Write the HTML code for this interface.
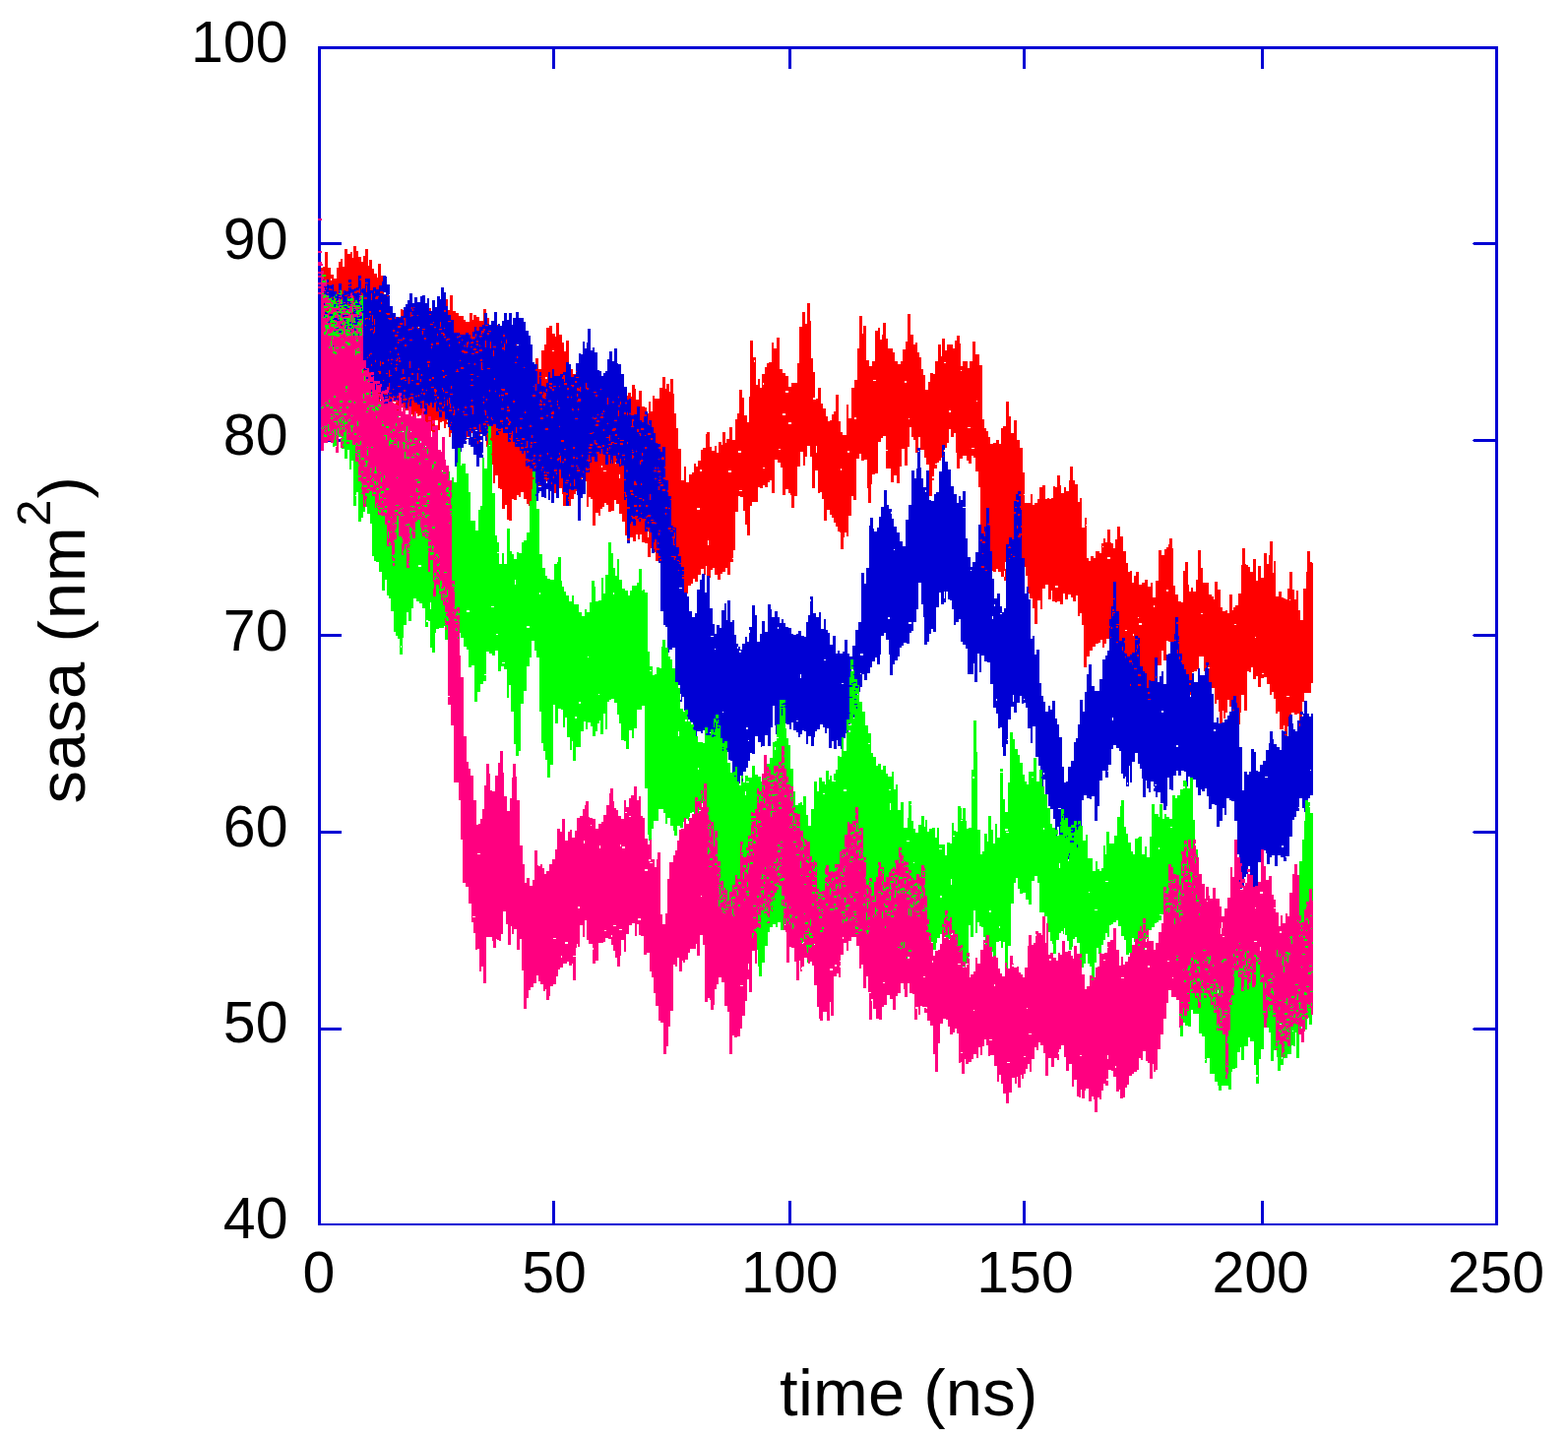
<!DOCTYPE html>
<html lang="en">
<head>
<meta charset="utf-8">
<title>sasa vs time</title>
<style>
html,body{margin:0;padding:0;background:#fff;}
body{width:1593px;height:1461px;overflow:hidden;font-family:"Liberation Sans",sans-serif;}
svg{display:block;}
.t{font-family:"Liberation Sans",sans-serif;font-size:59px;fill:#000;}
.l{font-family:"Liberation Sans",sans-serif;font-size:67px;fill:#000;}
</style>
</head>
<body>
<svg width="1593" height="1461" viewBox="0 0 1593 1461">
<rect width="1593" height="1461" fill="#fff"/>
<g id="axes" fill="#0000d4" shape-rendering="crispEdges">
<rect x="323" y="47" width="3" height="1198"/>
<rect x="1519" y="47" width="3" height="1198"/>
<rect x="323" y="47" width="1199" height="3"/>
<rect x="323" y="1243" width="1199" height="2"/>
<rect x="561" y="1220" width="3" height="23"/>
<rect x="561" y="50" width="3" height="20"/>
<rect x="801" y="1220" width="3" height="23"/>
<rect x="801" y="50" width="3" height="20"/>
<rect x="1039" y="1220" width="3" height="23"/>
<rect x="1039" y="50" width="3" height="20"/>
<rect x="1281" y="1220" width="3" height="23"/>
<rect x="1281" y="50" width="3" height="20"/>
<rect x="326" y="246" width="21" height="3"/>
<rect x="1497" y="246" width="22" height="3"/>
<rect x="1496" y="247" width="1" height="1"/>
<rect x="326" y="446" width="21" height="3"/>
<rect x="1497" y="446" width="22" height="3"/>
<rect x="1496" y="447" width="1" height="1"/>
<rect x="326" y="644" width="21" height="3"/>
<rect x="1497" y="644" width="22" height="3"/>
<rect x="1496" y="645" width="1" height="1"/>
<rect x="326" y="844" width="21" height="3"/>
<rect x="1497" y="844" width="22" height="3"/>
<rect x="1496" y="845" width="1" height="1"/>
<rect x="326" y="1044" width="21" height="3"/>
<rect x="1497" y="1044" width="22" height="3"/>
<rect x="1496" y="1045" width="1" height="1"/>
</g>
<g id="traces" fill="none" stroke-linejoin="miter" stroke-linecap="butt">
<path id="red" stroke="#ff0000" stroke-width="1" shape-rendering="crispEdges" d="M326.5 272V368M327.5 272V368M328.5 271V369M329.5 271V369M330.5 256V369M331.5 256V368M332.5 256V368M333.5 272V370M334.5 272V370M335.5 272V375M336.5 279V283M336.5 285V375M337.5 279V375M338.5 279V372M339.5 283V372M340.5 283V373M341.5 283V373M342.5 272V373M343.5 272V378M344.5 266V378M345.5 266V382M346.5 263V382M347.5 263V381M348.5 271V381M349.5 271V381M350.5 253V378M351.5 253V362M351.5 364V378M352.5 253V378M353.5 258V383M354.5 258V383M355.5 258V380M356.5 256V380M357.5 256V383M358.5 262V383M359.5 250V383M360.5 250V388M361.5 250V388M362.5 255V389M363.5 255V389M364.5 261V389M365.5 261V388M366.5 261V388M367.5 266V388M368.5 266V390M369.5 260V390M370.5 260V390M371.5 253V396M372.5 253V396M373.5 253V396M374.5 270V401M375.5 264V401M376.5 264V401M377.5 264V395M378.5 273V395M379.5 273V397M380.5 278V397M381.5 278V406M381.5 408V411M382.5 278V406M382.5 408V411M383.5 282V299M383.5 301V411M384.5 268V299M384.5 301V410M385.5 268V410M386.5 268V404M387.5 280V404M388.5 280V404M389.5 280V404M390.5 307V404M391.5 307V408M392.5 294V408M393.5 294V408M394.5 294V409M395.5 313V409M396.5 313V409M397.5 321V408M398.5 321V408M399.5 321V408M400.5 320V408M401.5 320V408M402.5 322V420M403.5 322V420M404.5 322V339M404.5 340V420M405.5 322V339M405.5 340V410M406.5 322V410M407.5 314V410M408.5 314V414M409.5 315V414M410.5 315V414M411.5 315V414M412.5 317V417M413.5 317V417M414.5 318V417M415.5 318V417M416.5 312V417M417.5 312V421M418.5 311V421M419.5 311V423M420.5 311V423M421.5 313V423M422.5 313V318M422.5 324V420M423.5 313V420M424.5 308V423M425.5 308V331M425.5 333V423M426.5 308V331M426.5 333V422M427.5 321V331M427.5 333V422M428.5 321V422M429.5 322V427M430.5 322V427M431.5 322V427M432.5 318V431M433.5 318V431M434.5 319V432M435.5 319V432M436.5 313V432M437.5 313V438M438.5 323V438M439.5 323V441M440.5 322V441M441.5 322V441M442.5 322V427M443.5 322V427M444.5 322V427M445.5 322V437M446.5 322V437M447.5 318V429M448.5 318V429M449.5 318V428M450.5 305V428M451.5 305V435M452.5 305V435M453.5 304V431M454.5 304V427M454.5 429V431M455.5 315V427M455.5 429V431M456.5 315V427M456.5 429V444M457.5 300V444M458.5 300V440M459.5 300V451M460.5 316V451M461.5 316V355M461.5 356V451M462.5 316V355M462.5 356V443M463.5 318V355M463.5 356V443M464.5 318V437M465.5 318V437M466.5 321V447M467.5 321V447M468.5 321V441M469.5 321V441M470.5 321V438M471.5 325V438M472.5 325V447M473.5 327V447M474.5 327V371M474.5 372V444M475.5 327V444M476.5 327V444M477.5 318V440M478.5 318V440M479.5 318V440M480.5 325V450M481.5 320V450M482.5 320V450M483.5 320V437M484.5 322V437M485.5 322V451M486.5 322V451M487.5 326V451M488.5 326V440M489.5 326V440M490.5 326V440M491.5 314V439M492.5 314V439M493.5 314V439M494.5 328V454M495.5 323V454M496.5 323V454M497.5 331V452M498.5 331V452M499.5 331V342M499.5 344V371M499.5 373V472M500.5 333V371M500.5 373V472M501.5 333V371M501.5 373V491M502.5 333V491M503.5 330V483M504.5 330V483M505.5 330V483M506.5 338V496M507.5 338V496M508.5 338V497M509.5 340V497M510.5 340V517M511.5 340V517M512.5 340V360M512.5 362V517M513.5 340V360M513.5 362V513M514.5 340V513M515.5 344V528M516.5 344V528M517.5 344V529M518.5 349V529M519.5 349V529M520.5 349V507M521.5 349V507M522.5 348V508M523.5 348V508M524.5 348V508M525.5 356V503M526.5 356V503M527.5 351V505M528.5 351V505M529.5 367V500M530.5 367V500M531.5 372V500M532.5 372V507M533.5 372V507M534.5 373V380M534.5 381V507M535.5 373V512M536.5 377V512M537.5 377V514M538.5 377V514M539.5 385V514M540.5 385V500M541.5 385V500M542.5 386V497M543.5 386V497M544.5 364V497M545.5 364V494M546.5 364V494M547.5 375V494M548.5 375V487M548.5 491V494M549.5 375V494M550.5 356V489M551.5 356V489M552.5 356V490M553.5 350V490M554.5 350V383M554.5 385V489M555.5 333V383M555.5 385V489M556.5 333V489M557.5 333V488M558.5 331V488M559.5 331V488M560.5 331V493M561.5 339V356M561.5 357V493M562.5 339V356M562.5 357V493M563.5 339V501M564.5 342V501M565.5 328V490M566.5 328V490M567.5 328V490M568.5 340V496M569.5 340V496M570.5 340V496M571.5 348V502M572.5 348V514M573.5 357V514M574.5 357V514M575.5 346V505M576.5 346V509M577.5 346V514M578.5 379V514M579.5 379V514M580.5 375V507M581.5 375V507M582.5 380V507M583.5 380V502M584.5 380V502M585.5 371V499M586.5 371V499M587.5 371V501M588.5 375V501M589.5 382V490M590.5 382V490M591.5 381V486M592.5 381V486M593.5 385V489M594.5 385V489M595.5 385V489M596.5 390V515M597.5 390V515M598.5 391V505M599.5 391V505M600.5 391V507M601.5 393V507M602.5 393V534M603.5 395V534M604.5 395V534M605.5 395V521M606.5 386V412M606.5 414V521M607.5 386V412M607.5 414V521M608.5 391V412M608.5 414V524M609.5 391V524M610.5 391V517M611.5 395V473M611.5 475V517M612.5 395V515M613.5 402V478M613.5 479V515M614.5 402V478M614.5 479V511M615.5 391V478M615.5 479V511M616.5 391V513M617.5 391V513M618.5 402V520M619.5 392V520M620.5 392V520M621.5 392V519M622.5 403V519M623.5 403V519M624.5 404V508M625.5 404V470M625.5 471V508M626.5 404V512M627.5 393V512M628.5 393V512M629.5 393V482M629.5 486V522M630.5 402V522M631.5 402V522M632.5 402V530M633.5 401V530M634.5 401V530M635.5 402V544M636.5 402V544M637.5 402V552M638.5 399V552M639.5 399V552M640.5 399V546M641.5 403V546M642.5 391V546M643.5 391V550M644.5 391V550M645.5 395V550M646.5 406V543M647.5 406V543M648.5 406V548M649.5 397V548M650.5 397V543M651.5 397V543M652.5 413V551M653.5 413V551M654.5 413V551M655.5 414V552M656.5 414V552M657.5 420V552M658.5 420V540M658.5 546V566M659.5 408V566M660.5 408V566M661.5 418V557M662.5 418V557M663.5 402V561M664.5 402V561M665.5 405V561M666.5 405V570M667.5 405V570M668.5 405V570M669.5 405V572M670.5 394V572M671.5 394V572M672.5 394V579M673.5 383V579M674.5 383V580M675.5 383V580M676.5 395V584M677.5 390V584M678.5 390V584M679.5 390V601M680.5 398V601M681.5 385V601M682.5 385V593M683.5 385V602M684.5 400V602M685.5 420V602M686.5 420V590M687.5 435V590M688.5 435V598M689.5 456V598M690.5 456V591M691.5 456V591M692.5 488V594M693.5 488V594M694.5 488V594M695.5 474V604M696.5 474V604M697.5 490V604M698.5 490V603M699.5 490V595M700.5 482V595M701.5 482V595M702.5 482V593M703.5 480V593M704.5 480V588M705.5 471V588M706.5 471V591M707.5 474V591M708.5 474V516M708.5 518V591M709.5 468V516M709.5 518V584M710.5 468V516M710.5 518V584M711.5 468V477M711.5 479V584M712.5 457V477M712.5 479V578M713.5 457V578M714.5 455V578M715.5 455V584M716.5 455V584M717.5 441V575M718.5 439V587M719.5 439V549M719.5 554V587M720.5 439V587M721.5 454V587M722.5 454V579M723.5 458V579M724.5 458V577M725.5 458V577M726.5 453V584M727.5 453V584M728.5 460V584M729.5 460V589M730.5 449V589M731.5 449V589M732.5 449V583M733.5 452V583M734.5 439V581M735.5 439V581M736.5 439V581M737.5 450V577M738.5 446V577M739.5 446V584M740.5 446V478M740.5 480V584M741.5 434V478M741.5 480V584M742.5 434V478M742.5 480V571M743.5 434V571M744.5 447V567M744.5 568V571M745.5 447V559M746.5 447V559M747.5 426V520M748.5 426V520M749.5 420V520M750.5 420V458M750.5 460V504M751.5 396V458M751.5 460V498M751.5 499V504M752.5 396V458M752.5 460V498M752.5 499V505M753.5 396V498M753.5 499V505M754.5 404V505M755.5 404V519M756.5 422V519M757.5 422V533M758.5 422V533M759.5 429V544M760.5 429V544M761.5 403V544M762.5 346V514M763.5 346V514M764.5 346V510M765.5 363V510M766.5 363V366M766.5 368V510M767.5 363V510M768.5 391V510M769.5 391V510M770.5 385V495M771.5 385V495M772.5 394V496M773.5 394V496M774.5 380V496M775.5 380V389M775.5 391V475M775.5 476V493M776.5 380V475M776.5 476V493M777.5 373V495M778.5 373V495M779.5 369V495M780.5 369V490M781.5 368V490M782.5 368V488M783.5 368V488M784.5 348V501M785.5 348V501M786.5 354V501M787.5 354V467M788.5 354V467M789.5 343V467M790.5 343V470M791.5 343V456M791.5 457V470M792.5 375V456M792.5 457V470M793.5 375V475M794.5 375V475M795.5 379V420M795.5 422V503M796.5 379V420M796.5 422V503M797.5 379V420M797.5 422V503M798.5 382V397M798.5 399V497M799.5 382V397M799.5 399V497M800.5 382V397M800.5 399V497M801.5 393V429M801.5 431V501M802.5 393V429M802.5 431V501M803.5 393V429M803.5 431V503M804.5 389V516M805.5 389V516M806.5 389V516M807.5 389V504M808.5 389V504M809.5 389V504M810.5 369V474M811.5 369V474M812.5 332V474M813.5 332V459M814.5 332V459M815.5 317V459M816.5 317V473M817.5 317V473M818.5 329V464M819.5 329V464M820.5 308V453M821.5 308V453M822.5 308V453M823.5 326V464M824.5 364V464M825.5 364V496M826.5 378V404M826.5 406V496M827.5 378V404M827.5 406V496M828.5 406V478M829.5 405V453M829.5 460V478M830.5 405V478M831.5 394V501M832.5 394V501M833.5 394V500M834.5 410V500M835.5 410V507M836.5 415V507M837.5 415V529M838.5 415V529M839.5 423V529M840.5 423V518M841.5 428V518M842.5 428V518M843.5 427V523M844.5 427V523M845.5 421V526M846.5 421V526M847.5 418V531M848.5 418V531M849.5 401V535M850.5 401V535M851.5 401V540M852.5 428V540M853.5 428V541M854.5 439V476M854.5 478V558M855.5 439V558M856.5 442V558M857.5 442V546M858.5 442V541M859.5 442V541M860.5 411V545M861.5 411V458M861.5 460V545M862.5 425V458M862.5 460V524M863.5 425V524M864.5 425V524M865.5 394V504M866.5 394V504M867.5 394V508M868.5 386V424M868.5 426V508M869.5 386V424M869.5 426V508M870.5 386V466M871.5 354V466M872.5 354V466M873.5 321V461M874.5 321V461M875.5 321V468M876.5 339V468M877.5 331V468M878.5 331V467M879.5 331V467M880.5 366V467M881.5 366V496M882.5 366V511M883.5 372V511M884.5 372V511M885.5 372V492M886.5 367V482M887.5 367V386M887.5 387V482M888.5 367V386M888.5 387V482M889.5 336V386M889.5 387V481M890.5 336V481M891.5 336V481M892.5 333V449M893.5 333V449M894.5 345V449M895.5 345V445M896.5 340V445M897.5 328V443M898.5 328V443M899.5 328V443M900.5 344V457M900.5 458V476M901.5 344V457M901.5 458V476M902.5 354V476M903.5 354V476M904.5 354V476M905.5 354V490M906.5 354V490M907.5 358V490M908.5 358V483M909.5 367V483M910.5 367V483M911.5 367V491M912.5 370V491M913.5 370V491M914.5 370V474M915.5 367V474M916.5 367V456M917.5 355V456M918.5 355V456M919.5 355V387M919.5 389V473M920.5 347V387M920.5 389V473M921.5 347V473M922.5 319V454M923.5 319V425M923.5 426V454M924.5 319V434M925.5 340V434M926.5 340V444M927.5 340V444M928.5 350V447M929.5 350V447M930.5 348V460M931.5 348V460M932.5 358V460M933.5 358V444M934.5 363V444M935.5 363V457M936.5 375V457M937.5 375V457M938.5 381V457M939.5 381V465M940.5 396V465M941.5 396V472M942.5 396V472M943.5 388V472M944.5 388V504M945.5 379V504M946.5 379V504M947.5 379V484M947.5 486V488M948.5 380V484M948.5 486V488M949.5 380V476M950.5 367V471M950.5 472V476M951.5 367V471M951.5 472V476M952.5 367V470M953.5 350V470M954.5 350V468M955.5 350V468M956.5 362V465M957.5 344V465M958.5 344V465M959.5 344V368M959.5 369V455M960.5 356V368M960.5 369V455M961.5 356V455M962.5 350V450M963.5 350V450M964.5 350V417M964.5 419V436M965.5 350V417M965.5 419V436M966.5 350V444M967.5 350V444M968.5 354V444M969.5 354V440M970.5 346V440M971.5 346V460M972.5 341V476M973.5 341V476M974.5 341V476M975.5 349V466M976.5 372V376M976.5 377V466M977.5 372V466M978.5 367V463M979.5 367V463M980.5 367V463M981.5 367V463M982.5 367V468M983.5 374V434M983.5 435V468M984.5 374V434M984.5 435V471M985.5 367V434M985.5 435V471M986.5 367V471M987.5 367V455M987.5 456V463M988.5 347V455M988.5 456V463M989.5 347V455M989.5 456V465M990.5 347V465M991.5 360V479M992.5 360V407M992.5 408V479M993.5 360V479M994.5 360V495M995.5 371V495M996.5 371V572M997.5 371V590M998.5 426V590M999.5 426V590M1000.5 435V583M1001.5 435V585M1002.5 438V585M1003.5 438V586M1004.5 444V586M1005.5 444V588M1006.5 451V588M1007.5 451V566M1007.5 567V580M1008.5 451V580M1009.5 450V581M1010.5 450V581M1011.5 450V581M1012.5 447V578M1013.5 447V578M1014.5 447V581M1015.5 451V581M1016.5 451V581M1017.5 435V586M1018.5 435V586M1019.5 433V586M1020.5 433V580M1020.5 586V590M1021.5 433V571M1021.5 578V590M1022.5 408V590M1023.5 408V586M1024.5 408V583M1025.5 423V583M1026.5 423V583M1027.5 440V576M1028.5 440V576M1029.5 440V576M1030.5 427V556M1030.5 558V575M1031.5 427V556M1031.5 558V575M1032.5 427V576M1033.5 447V576M1034.5 447V568M1035.5 447V568M1036.5 455V568M1037.5 455V577M1038.5 455V577M1039.5 480V576M1040.5 480V502M1040.5 503V576M1041.5 511V576M1042.5 511V585M1043.5 511V585M1044.5 511V603M1045.5 511V603M1046.5 511V608M1047.5 502V608M1048.5 502V608M1049.5 513V618M1050.5 513V618M1051.5 511V634M1052.5 511V634M1053.5 511V634M1054.5 507V610M1055.5 507V610M1056.5 495V610M1057.5 495V619M1058.5 495V619M1059.5 493V598M1060.5 493V598M1061.5 493V598M1062.5 507V594M1063.5 507V594M1064.5 506V594M1065.5 506V609M1066.5 507V609M1067.5 507V609M1068.5 506V600M1069.5 506V611M1070.5 494V611M1071.5 494V611M1072.5 495V595M1072.5 597V612M1073.5 495V595M1073.5 597V612M1074.5 483V595M1074.5 597V611M1075.5 483V611M1076.5 483V611M1077.5 493V614M1078.5 501V614M1079.5 501V614M1080.5 501V603M1081.5 495V603M1082.5 495V609M1083.5 499V609M1084.5 499V609M1085.5 499V604M1086.5 488V604M1087.5 474V604M1088.5 474V607M1089.5 474V607M1090.5 488V611M1091.5 488V611M1092.5 492V611M1093.5 492V605M1094.5 492V605M1095.5 510V626M1096.5 510V626M1097.5 506V623M1098.5 506V623M1099.5 536V635M1100.5 536V635M1101.5 536V678M1102.5 526V678M1103.5 526V533M1103.5 534V678M1104.5 567V667M1105.5 567V667M1106.5 570V667M1107.5 570V661M1108.5 565V661M1109.5 565V661M1110.5 565V657M1111.5 567V657M1112.5 567V657M1113.5 560V654M1114.5 560V654M1115.5 560V654M1116.5 560V653M1117.5 562V653M1118.5 562V650M1119.5 552V650M1120.5 552V555M1120.5 556V658M1121.5 547V658M1122.5 547V654M1123.5 551V654M1124.5 551V649M1125.5 538V566M1125.5 568V649M1126.5 538V566M1126.5 568V649M1127.5 538V566M1127.5 568V655M1128.5 551V655M1129.5 552V651M1130.5 552V651M1131.5 557V651M1132.5 557V665M1133.5 548V665M1134.5 548V658M1135.5 535V658M1136.5 535V658M1137.5 535V658M1138.5 545V658M1139.5 545V662M1140.5 545V662M1141.5 560V668M1142.5 560V668M1143.5 560V640M1143.5 641V668M1144.5 572V640M1144.5 641V676M1145.5 572V676M1146.5 581V676M1147.5 581V700M1148.5 580V700M1149.5 580V690M1150.5 592V690M1151.5 592V644M1151.5 646V692M1152.5 585V692M1153.5 585V694M1154.5 581V694M1155.5 581V694M1156.5 581V627M1156.5 628V703M1157.5 594V633M1157.5 635V703M1158.5 594V633M1158.5 635V703M1159.5 594V633M1159.5 635V698M1160.5 592V698M1161.5 592V704M1162.5 592V704M1163.5 589V701M1164.5 589V701M1165.5 589V703M1166.5 596V711M1167.5 596V711M1168.5 596V711M1169.5 592V693M1170.5 592V700M1171.5 607V700M1172.5 607V615M1172.5 617V694M1173.5 607V694M1174.5 590V694M1175.5 590V676M1176.5 590V676M1177.5 559V676M1178.5 559V676M1179.5 559V676M1180.5 564V661M1181.5 564V661M1182.5 564V671M1183.5 558V671M1184.5 558V671M1185.5 556V599M1185.5 601V651M1186.5 556V599M1186.5 601V651M1187.5 553V652M1188.5 547V652M1189.5 547V652M1190.5 547V660M1191.5 557V660M1192.5 595V653M1193.5 595V653M1194.5 604V653M1195.5 604V666M1196.5 604V666M1197.5 611V666M1198.5 611V678M1199.5 611V678M1200.5 612V679M1201.5 612V679M1202.5 580V687M1203.5 580V687M1204.5 571V687M1205.5 571V688M1206.5 571V688M1207.5 594V706M1208.5 601V706M1209.5 601V706M1210.5 597V695M1211.5 597V683M1212.5 601V683M1213.5 601V682M1214.5 601V682M1215.5 589V682M1216.5 589V680M1217.5 559V680M1218.5 559V667M1219.5 559V667M1220.5 577V623M1220.5 624V667M1221.5 577V623M1221.5 624V667M1222.5 592V667M1223.5 592V682M1224.5 592V682M1225.5 592V682M1226.5 592V691M1227.5 592V678M1227.5 679V691M1228.5 604V678M1228.5 679V700M1229.5 604V700M1230.5 604V700M1231.5 606V699M1232.5 606V699M1233.5 609V699M1234.5 591V715M1235.5 591V715M1236.5 591V711M1237.5 599V711M1238.5 599V723M1239.5 599V736M1240.5 617V736M1241.5 617V736M1242.5 621V722M1243.5 621V730M1244.5 621V730M1245.5 620V724M1246.5 620V724M1247.5 623V711M1248.5 623V711M1249.5 604V718M1250.5 604V718M1251.5 604V724M1252.5 620V724M1253.5 617V730M1254.5 617V634M1254.5 635V730M1255.5 615V634M1255.5 635V730M1256.5 615V727M1257.5 615V736M1258.5 603V736M1259.5 603V736M1260.5 603V724M1261.5 574V706M1262.5 557V706M1263.5 557V706M1264.5 557V722M1265.5 573V722M1266.5 574V722M1267.5 574V682M1268.5 576V682M1269.5 576V683M1270.5 581V683M1271.5 581V678M1272.5 581V678M1273.5 568V690M1274.5 568V690M1275.5 568V647M1275.5 648V690M1276.5 590V687M1277.5 590V687M1278.5 575V698M1279.5 575V698M1280.5 575V698M1281.5 587V689M1282.5 587V684M1282.5 685V689M1283.5 587V684M1283.5 685V689M1284.5 562V688M1285.5 562V688M1286.5 562V688M1287.5 573V695M1288.5 573V695M1289.5 564V695M1290.5 550V706M1291.5 550V706M1292.5 550V703M1293.5 582V703M1294.5 570V710M1295.5 570V710M1296.5 606V725M1297.5 606V725M1298.5 606V723M1299.5 601V723M1300.5 601V741M1301.5 601V741M1302.5 607V741M1303.5 607V741M1304.5 608V737M1305.5 608V748M1306.5 609V748M1307.5 609V707M1307.5 708V748M1308.5 598V707M1308.5 708V738M1309.5 598V707M1309.5 708V736M1310.5 581V609M1310.5 610V736M1311.5 581V736M1312.5 581V724M1313.5 599V724M1314.5 599V724M1315.5 609V726M1316.5 609V726M1317.5 600V726M1318.5 600V725M1319.5 620V725M1320.5 620V739M1321.5 630V739M1322.5 630V739M1323.5 630V713M1324.5 598V713M1325.5 598V704M1326.5 598V704M1327.5 581V704M1328.5 560V704M1329.5 560V704M1330.5 560V704M1331.5 571V704M1332.5 571V694M1333.5 572V694"/>
<path id="blue" stroke="#0000d4" stroke-width="1" shape-rendering="crispEdges" d="M326.5 283V362M326.5 364V401M327.5 283V314M327.5 315V362M327.5 364V401M328.5 283V316M328.5 318V362M328.5 364V401M329.5 288V297M329.5 298V393M330.5 288V315M330.5 317V358M330.5 360V393M331.5 284V287M331.5 289V292M331.5 294V314M331.5 317V353M331.5 354V358M331.5 360V393M332.5 284V287M332.5 289V314M332.5 317V319M332.5 320V353M332.5 354V393M333.5 284V287M333.5 289V314M333.5 316V319M333.5 320V393M334.5 290V293M334.5 295V314M334.5 316V319M334.5 320V360M334.5 364V394M335.5 290V293M335.5 295V314M335.5 316V364M335.5 366V394M336.5 290V294M336.5 295V302M336.5 303V321M336.5 323V394M337.5 289V294M337.5 295V302M337.5 303V322M337.5 323V328M337.5 330V394M338.5 289V328M338.5 330V394M339.5 296V302M339.5 309V399M340.5 296V317M340.5 321V399M341.5 296V306M341.5 308V399M342.5 299V401M343.5 299V318M343.5 320V401M344.5 288V311M344.5 312V323M344.5 324V331M344.5 333V356M344.5 358V399M345.5 288V304M345.5 305V307M345.5 309V311M345.5 312V399M346.5 288V304M346.5 305V311M346.5 312V315M346.5 316V399M347.5 299V302M347.5 305V312M347.5 314V331M347.5 332V399M348.5 299V312M348.5 314V315M348.5 316V331M348.5 332V356M348.5 357V399M349.5 295V312M349.5 314V315M349.5 316V356M349.5 357V379M349.5 381V399M350.5 295V300M350.5 301V315M350.5 316V379M350.5 381V409M351.5 296V300M351.5 301V409M352.5 296V300M352.5 301V400M353.5 296V299M353.5 300V301M353.5 303V304M353.5 305V308M353.5 312V341M353.5 342V400M354.5 284V287M354.5 289V291M354.5 292V301M354.5 303V304M354.5 306V309M354.5 310V317M354.5 319V400M355.5 284V287M355.5 289V291M355.5 292V301M355.5 303V304M355.5 306V309M355.5 310V317M355.5 319V323M355.5 324V398M356.5 284V287M356.5 288V291M356.5 292V304M356.5 306V323M356.5 324V352M356.5 354V356M356.5 358V375M356.5 379V398M357.5 294V297M357.5 303V352M357.5 354V356M357.5 358V375M357.5 379V382M357.5 383V398M358.5 294V317M358.5 319V352M358.5 354V398M359.5 294V301M359.5 308V356M359.5 358V401M360.5 293V296M360.5 298V371M360.5 373V386M360.5 387V401M361.5 293V296M361.5 298V371M361.5 373V379M361.5 380V381M361.5 382V386M361.5 387V401M362.5 292V295M362.5 298V371M362.5 373V379M362.5 380V381M362.5 382V386M362.5 387V406M363.5 292V295M363.5 297V371M363.5 372V379M363.5 380V381M363.5 382V406M364.5 280V295M364.5 297V371M364.5 372V406M365.5 280V283M365.5 284V293M365.5 298V364M365.5 366V377M365.5 379V402M366.5 280V283M366.5 285V364M366.5 366V402M367.5 294V297M367.5 300V402M368.5 293V298M368.5 300V311M368.5 313V371M368.5 374V382M368.5 384V411M369.5 293V376M369.5 378V382M369.5 384V411M370.5 293V302M370.5 304V376M370.5 378V387M370.5 388V411M371.5 283V287M371.5 288V302M371.5 304V323M371.5 325V330M371.5 331V376M371.5 378V387M371.5 388V414M372.5 283V287M372.5 288V290M372.5 297V302M372.5 304V323M372.5 324V387M372.5 388V414M373.5 283V287M373.5 288V323M373.5 324V363M373.5 364V379M373.5 383V409M374.5 283V378M374.5 379V380M374.5 387V398M374.5 399V409M375.5 283V316M375.5 318V323M375.5 325V360M375.5 362V378M375.5 379V386M375.5 388V398M375.5 399V406M376.5 295V316M376.5 318V320M376.5 321V334M376.5 336V359M376.5 360V378M376.5 379V386M376.5 388V406M377.5 295V298M377.5 305V334M377.5 335V359M377.5 360V370M377.5 372V414M378.5 295V320M378.5 327V329M378.5 330V334M378.5 335V414M379.5 292V337M379.5 339V412M380.5 292V296M380.5 298V324M380.5 330V332M380.5 338V412M381.5 292V302M381.5 304V366M381.5 368V412M382.5 294V301M382.5 304V397M382.5 398V412M383.5 294V301M383.5 304V397M383.5 398V405M383.5 407V412M384.5 294V301M384.5 302V377M384.5 378V394M384.5 395V397M384.5 398V399M384.5 401V405M385.5 290V315M385.5 317V377M385.5 380V394M385.5 395V399M385.5 400V402M385.5 404V405M386.5 290V296M386.5 298V315M386.5 317V367M386.5 372V377M386.5 380V394M386.5 395V400M386.5 401V402M386.5 404V406M387.5 290V296M387.5 298V307M387.5 309V400M387.5 401V409M388.5 286V296M388.5 298V368M388.5 370V409M389.5 280V297M389.5 299V368M389.5 370V386M389.5 387V421M390.5 280V297M390.5 299V400M390.5 401V421M391.5 280V297M391.5 299V400M391.5 401V421M392.5 281V318M392.5 319V379M392.5 380V400M392.5 401V413M393.5 289V300M393.5 301V318M393.5 320V379M393.5 380V413M394.5 289V300M394.5 301V318M394.5 320V323M394.5 324V365M394.5 367V405M394.5 407V413M395.5 289V299M395.5 300V318M395.5 320V323M395.5 325V376M395.5 383V389M395.5 396V399M395.5 400V402M395.5 407V413M396.5 311V323M396.5 325V357M396.5 358V381M396.5 382V399M396.5 400V403M396.5 405V413M397.5 311V323M397.5 325V365M397.5 366V369M397.5 370V381M397.5 382V399M397.5 400V403M397.5 405V412M398.5 311V365M398.5 366V412M399.5 318V335M399.5 337V395M399.5 396V402M399.5 404V407M400.5 318V335M400.5 337V403M400.5 404V407M401.5 318V322M401.5 324V340M401.5 342V353M401.5 355V374M401.5 375V403M401.5 404V407M402.5 322V340M402.5 342V353M402.5 355V366M402.5 367V370M402.5 371V373M402.5 377V407M403.5 322V337M403.5 338V340M403.5 342V364M403.5 367V370M403.5 371V402M403.5 405V407M404.5 322V331M404.5 333V337M404.5 338V345M404.5 346V347M404.5 349V359M404.5 361V392M404.5 393V402M404.5 404V407M405.5 323V331M405.5 333V345M405.5 346V363M405.5 365V366M405.5 368V392M405.5 393V402M405.5 404V416M406.5 323V328M406.5 330V331M406.5 333V345M406.5 346V366M406.5 368V392M406.5 393V416M407.5 321V328M407.5 330V345M407.5 346V384M407.5 386V412M408.5 321V328M408.5 330V345M408.5 346V384M408.5 386V412M409.5 321V343M409.5 345V375M409.5 380V383M409.5 385V405M409.5 407V409M410.5 312V323M410.5 325V343M410.5 345V383M410.5 385V396M410.5 398V401M410.5 404V405M410.5 407V409M411.5 312V323M411.5 331V350M411.5 352V383M411.5 385V386M411.5 387V396M411.5 398V404M411.5 407V409M412.5 309V350M412.5 352V386M412.5 387V405M412.5 407V415M413.5 309V405M413.5 406V415M414.5 305V409M415.5 305V334M415.5 336V383M415.5 390V404M416.5 298V334M416.5 335V345M416.5 346V367M416.5 374V404M416.5 406V414M417.5 298V317M417.5 322V334M417.5 335V345M417.5 346V400M417.5 401V403M417.5 405V414M418.5 298V312M418.5 314V320M418.5 321V334M418.5 335V345M418.5 346V379M418.5 381V386M418.5 387V400M418.5 401V403M418.5 405V407M419.5 308V314M419.5 316V320M419.5 321V332M419.5 334V379M419.5 381V386M419.5 387V400M419.5 401V403M420.5 308V312M420.5 313V407M421.5 302V409M422.5 302V402M422.5 403V409M423.5 302V389M423.5 391V402M423.5 403V409M424.5 307V320M424.5 321V332M424.5 334V379M424.5 386V389M424.5 391V411M425.5 307V332M425.5 334V374M425.5 376V389M425.5 391V401M425.5 403V411M426.5 307V411M427.5 301V385M427.5 388V408M427.5 409V415M428.5 301V380M428.5 382V399M428.5 400V408M428.5 409V415M429.5 300V334M429.5 335V336M429.5 340V395M429.5 397V407M430.5 300V334M430.5 335V399M430.5 401V407M431.5 300V334M431.5 335V343M431.5 345V399M431.5 401V421M432.5 308V343M432.5 345V410M432.5 411V416M432.5 417V421M433.5 308V396M433.5 397V410M433.5 411V421M434.5 303V367M434.5 369V410M435.5 303V367M435.5 369V370M435.5 373V412M436.5 316V319M436.5 320V367M436.5 369V385M436.5 387V412M437.5 316V319M437.5 320V329M437.5 330V385M437.5 387V409M438.5 316V329M438.5 330V349M438.5 351V352M438.5 354V393M438.5 394V409M439.5 305V329M439.5 330V349M439.5 351V383M439.5 385V393M439.5 394V414M440.5 305V327M440.5 328V383M440.5 385V393M440.5 394V414M441.5 305V332M441.5 333V395M441.5 398V401M441.5 402V409M442.5 312V332M442.5 333V395M442.5 400V401M442.5 402V405M442.5 406V409M443.5 312V348M443.5 350V396M443.5 398V401M443.5 402V408M443.5 409V418M444.5 301V339M444.5 341V348M444.5 350V403M444.5 405V418M445.5 301V348M445.5 350V403M445.5 405V414M445.5 416V418M446.5 301V334M446.5 335V409M446.5 411V416M446.5 418V424M447.5 304V327M447.5 332V334M447.5 335V409M447.5 411V417M447.5 418V424M448.5 292V334M448.5 335V338M448.5 339V409M448.5 411V417M448.5 418V424M449.5 292V338M449.5 339V376M449.5 377V394M449.5 396V413M449.5 415V418M450.5 292V338M450.5 341V376M450.5 378V382M450.5 384V396M450.5 398V413M450.5 415V418M451.5 297V315M451.5 317V333M451.5 334V339M451.5 341V342M451.5 343V382M451.5 384V404M451.5 405V408M451.5 409V410M451.5 413V418M452.5 297V315M452.5 317V342M452.5 343V381M452.5 382V398M452.5 399V426M453.5 311V345M453.5 346V381M453.5 382V398M453.5 399V426M454.5 311V344M454.5 346V398M454.5 399V406M454.5 412V426M455.5 320V326M455.5 327V344M455.5 345V434M456.5 320V326M456.5 327V344M456.5 345V350M456.5 352V404M456.5 410V416M456.5 418V434M457.5 320V326M457.5 327V400M457.5 401V410M457.5 415V416M457.5 418V431M457.5 433V437M458.5 325V392M458.5 395V400M458.5 401V416M458.5 418V429M458.5 430V437M459.5 325V400M459.5 401V456M460.5 325V413M460.5 415V420M460.5 422V456M461.5 338V416M461.5 422V456M462.5 338V474M463.5 338V377M463.5 378V474M464.5 338V342M464.5 343V375M464.5 378V474M465.5 338V342M465.5 343V377M465.5 378V415M465.5 417V460M466.5 338V341M466.5 342V347M466.5 349V460M467.5 340V341M467.5 342V366M467.5 367V459M468.5 340V373M468.5 375V459M469.5 340V345M469.5 346V356M469.5 358V373M469.5 375V455M470.5 340V356M470.5 358V373M470.5 375V418M470.5 419V455M471.5 340V351M471.5 352V356M471.5 359V418M471.5 419V421M471.5 422V451M472.5 340V351M472.5 352V357M472.5 359V413M472.5 415V421M472.5 422V451M473.5 338V357M473.5 359V413M473.5 415V421M473.5 422V446M473.5 448V451M474.5 338V348M474.5 353V357M474.5 359V421M474.5 422V438M474.5 445V446M475.5 338V347M475.5 350V443M475.5 445V446M476.5 340V369M476.5 370V443M476.5 445V452M477.5 340V435M477.5 436V437M477.5 438V452M478.5 344V348M478.5 349V352M478.5 353V380M478.5 381V391M478.5 392V412M478.5 414V435M478.5 436V454M479.5 344V347M479.5 349V352M479.5 353V359M479.5 360V380M479.5 381V385M479.5 387V391M479.5 392V406M479.5 408V412M479.5 414V438M479.5 444V454M480.5 337V342M480.5 345V347M480.5 349V359M480.5 360V380M480.5 381V391M480.5 392V412M480.5 421V454M481.5 337V342M481.5 344V354M481.5 356V359M481.5 360V434M481.5 436V462M482.5 332V342M482.5 344V354M482.5 356V369M482.5 371V434M482.5 436V445M482.5 446V462M483.5 332V339M483.5 342V354M483.5 356V357M483.5 359V434M483.5 436V437M483.5 438V462M484.5 336V346M484.5 348V349M484.5 351V357M484.5 359V437M484.5 438V474M485.5 336V346M485.5 348V349M485.5 351V357M485.5 359V382M485.5 383V448M485.5 451V474M486.5 336V474M487.5 332V341M487.5 342V351M487.5 352V355M487.5 357V431M487.5 439V441M487.5 443V447M487.5 449V465M488.5 332V341M488.5 343V355M488.5 357V365M488.5 367V437M488.5 439V441M488.5 443V447M488.5 449V465M489.5 332V336M489.5 340V341M489.5 342V355M489.5 357V365M489.5 367V368M489.5 376V441M489.5 443V447M489.5 449V465M490.5 330V336M490.5 338V375M490.5 376V460M490.5 462V465M491.5 330V334M491.5 338V403M491.5 404V408M491.5 410V430M491.5 432V443M492.5 318V334M492.5 336V417M492.5 418V430M492.5 432V443M493.5 318V330M493.5 331V346M493.5 353V417M493.5 422V428M493.5 429V430M493.5 432V434M493.5 435V448M494.5 318V330M494.5 331V405M494.5 407V428M494.5 429V442M494.5 444V448M495.5 329V330M495.5 331V338M495.5 340V374M495.5 375V423M495.5 425V428M495.5 429V431M495.5 433V436M495.5 438V440M496.5 329V336M496.5 337V338M496.5 340V374M496.5 375V431M496.5 433V440M497.5 330V336M497.5 337V374M497.5 375V396M497.5 398V440M498.5 330V336M498.5 337V347M498.5 354V433M499.5 326V424M499.5 426V433M500.5 326V426M500.5 427V433M501.5 326V352M501.5 353V356M501.5 362V431M502.5 317V352M502.5 353V384M502.5 386V431M503.5 317V352M503.5 353V397M503.5 398V431M504.5 317V435M504.5 438V442M505.5 331V435M505.5 438V442M506.5 329V436M506.5 437V438M506.5 440V442M507.5 329V401M507.5 403V436M507.5 437V438M508.5 331V427M508.5 429V436M508.5 437V438M509.5 331V347M509.5 348V395M509.5 396V401M509.5 402V415M509.5 416V427M509.5 429V435M510.5 326V353M510.5 355V395M510.5 397V401M510.5 402V405M510.5 407V415M510.5 416V427M510.5 429V430M510.5 431V435M511.5 326V340M511.5 342V353M511.5 355V395M511.5 397V401M511.5 402V415M511.5 416V440M512.5 318V340M512.5 342V349M512.5 356V395M512.5 397V440M513.5 318V399M513.5 401V434M513.5 436V440M514.5 318V345M514.5 349V399M514.5 401V424M514.5 426V434M514.5 436V440M515.5 325V399M515.5 401V413M515.5 415V416M515.5 418V424M515.5 426V434M515.5 436V440M516.5 325V413M516.5 415V416M516.5 418V426M516.5 428V430M516.5 432V449M517.5 318V416M517.5 418V428M517.5 432V440M517.5 441V445M517.5 446V449M518.5 318V428M518.5 430V440M518.5 441V445M518.5 447V449M519.5 318V440M519.5 441V442M520.5 330V438M521.5 323V407M521.5 409V449M522.5 323V407M522.5 409V449M523.5 323V368M523.5 369V454M524.5 317V350M524.5 351V368M524.5 369V434M524.5 440V445M524.5 446V450M524.5 451V454M525.5 317V350M525.5 351V362M525.5 364V445M525.5 446V447M525.5 448V454M526.5 317V350M526.5 351V447M526.5 448V454M527.5 323V447M527.5 448V454M528.5 323V425M528.5 426V434M528.5 436V458M529.5 323V425M529.5 426V434M529.5 436V450M529.5 451V454M529.5 456V458M530.5 323V425M530.5 426V445M530.5 447V450M530.5 451V454M530.5 456V461M531.5 323V445M531.5 447V454M531.5 456V461M532.5 327V373M532.5 374V445M532.5 447V458M533.5 327V418M533.5 420V454M533.5 455V458M534.5 336V454M534.5 455V466M534.5 468V474M535.5 336V448M535.5 455V458M535.5 460V466M535.5 468V469M535.5 470V474M536.5 336V458M536.5 460V466M536.5 469V473M537.5 341V467M537.5 469V473M538.5 341V432M538.5 434V467M538.5 469V476M539.5 350V432M539.5 434V449M539.5 451V452M539.5 455V476M540.5 350V442M540.5 445V449M540.5 451V467M540.5 469V476M541.5 368V401M541.5 403V470M541.5 472V479M542.5 368V392M542.5 393V401M542.5 403V449M542.5 450V462M542.5 464V466M542.5 467V470M542.5 472V479M543.5 370V401M543.5 403V449M543.5 450V462M543.5 464V470M543.5 472V473M543.5 476V479M544.5 370V375M544.5 377V390M544.5 397V449M544.5 450V473M544.5 474V509M545.5 370V375M545.5 377V509M546.5 390V509M547.5 390V467M547.5 468V490M547.5 491V493M547.5 495V501M548.5 378V382M548.5 383V398M548.5 400V410M548.5 412V462M548.5 464V467M548.5 468V493M548.5 495V499M549.5 378V382M549.5 383V384M549.5 385V398M549.5 400V406M549.5 409V410M549.5 412V415M549.5 416V424M549.5 426V462M549.5 464V493M549.5 495V499M550.5 392V398M550.5 400V408M550.5 409V410M550.5 412V415M550.5 416V424M550.5 426V477M550.5 478V505M551.5 392V401M551.5 404V424M551.5 426V474M551.5 476V505M552.5 392V398M552.5 405V410M552.5 412V505M553.5 393V399M553.5 405V410M553.5 412V479M553.5 481V482M553.5 484V485M553.5 487V506M554.5 393V399M554.5 403V404M554.5 405V435M554.5 437V482M554.5 484V485M554.5 487V506M555.5 389V395M555.5 398V422M555.5 423V435M555.5 437V480M555.5 481V482M555.5 484V485M555.5 491V497M556.5 389V422M556.5 423V435M556.5 437V460M556.5 462V480M556.5 481V486M556.5 487V497M557.5 378V407M557.5 408V480M557.5 481V486M557.5 487V508M558.5 378V389M558.5 391V392M558.5 394V407M558.5 408V508M559.5 384V389M559.5 391V393M559.5 395V407M559.5 408V412M559.5 413V465M559.5 466V499M560.5 384V389M560.5 391V393M560.5 395V412M560.5 413V419M560.5 421V423M560.5 425V465M560.5 466V490M560.5 492V511M561.5 375V395M561.5 397V418M561.5 421V423M561.5 425V511M562.5 375V392M562.5 393V395M562.5 397V418M562.5 421V484M562.5 486V511M563.5 382V392M563.5 393V477M563.5 479V492M564.5 382V392M564.5 393V477M564.5 479V492M565.5 382V477M565.5 479V480M565.5 482V506M566.5 382V407M566.5 409V410M566.5 412V466M566.5 468V506M567.5 382V414M567.5 415V465M567.5 468V506M568.5 382V392M568.5 393V414M568.5 415V433M568.5 434V460M568.5 462V465M568.5 467V477M569.5 380V463M569.5 470V477M570.5 380V447M570.5 449V486M571.5 380V383M571.5 385V447M571.5 449V469M571.5 470V486M572.5 378V381M572.5 385V447M572.5 449V469M572.5 470V500M573.5 378V381M573.5 388V389M573.5 391V456M573.5 457V466M573.5 468V500M574.5 378V389M574.5 391V456M574.5 457V466M574.5 468V490M574.5 491V500M575.5 368V389M575.5 391V488M575.5 489V490M575.5 491V501M575.5 503V514M576.5 368V394M576.5 396V403M576.5 404V488M576.5 489V490M576.5 491V501M576.5 503V514M577.5 368V394M577.5 396V403M577.5 404V488M577.5 489V505M577.5 507V508M577.5 509V514M578.5 370V482M578.5 484V497M579.5 370V491M579.5 494V497M580.5 383V391M580.5 392V403M580.5 404V473M580.5 474V498M581.5 383V391M581.5 393V415M581.5 417V473M581.5 474V498M582.5 383V391M582.5 393V416M582.5 417V454M582.5 456V464M582.5 466V473M582.5 474V498M583.5 381V454M583.5 456V464M583.5 466V487M583.5 494V497M584.5 381V387M584.5 389V425M584.5 426V497M585.5 369V377M585.5 378V383M585.5 384V387M585.5 389V425M585.5 426V465M585.5 466V473M585.5 474V497M586.5 369V383M586.5 384V394M586.5 397V400M586.5 403V407M586.5 408V425M586.5 426V465M586.5 466V473M586.5 474V475M586.5 476V477M586.5 479V503M587.5 369V383M587.5 384V394M587.5 397V405M587.5 408V415M587.5 417V475M587.5 476V477M587.5 479V529M588.5 359V395M588.5 397V405M588.5 408V477M588.5 479V529M589.5 359V393M589.5 398V405M589.5 408V529M590.5 360V485M590.5 487V506M591.5 360V462M591.5 464V485M591.5 487V506M592.5 347V479M592.5 480V502M593.5 347V502M594.5 354V502M595.5 354V389M595.5 395V475M595.5 478V480M596.5 348V394M596.5 396V467M596.5 468V476M596.5 478V480M597.5 334V394M597.5 396V467M597.5 469V476M597.5 478V480M598.5 334V454M598.5 456V459M598.5 460V462M598.5 469V476M598.5 477V480M599.5 334V440M599.5 441V451M599.5 453V454M599.5 456V459M599.5 460V467M599.5 469V470M600.5 356V440M600.5 441V451M600.5 453V454M600.5 456V459M600.5 460V470M601.5 356V440M601.5 441V451M601.5 453V464M602.5 353V424M602.5 425V439M602.5 440V464M603.5 353V398M603.5 399V425M603.5 426V464M604.5 358V398M604.5 399V425M604.5 426V447M604.5 451V469M605.5 358V398M605.5 399V401M605.5 403V424M605.5 426V431M605.5 433V450M605.5 452V469M606.5 358V401M606.5 403V427M606.5 429V431M606.5 433V450M606.5 452V459M606.5 461V469M607.5 376V421M607.5 422V427M607.5 429V431M607.5 433V453M607.5 455V459M608.5 376V427M608.5 429V453M608.5 455V459M609.5 377V453M609.5 455V461M610.5 377V395M610.5 396V423M610.5 425V454M610.5 455V461M611.5 382V420M611.5 421V423M611.5 425V456M612.5 382V420M612.5 421V423M612.5 425V452M612.5 454V461M613.5 379V417M613.5 419V436M613.5 438V452M613.5 454V462M614.5 379V462M615.5 377V472M616.5 377V444M616.5 445V459M616.5 461V472M617.5 365V404M617.5 411V430M617.5 431V444M617.5 445V455M617.5 458V459M617.5 461V472M618.5 365V444M618.5 445V451M618.5 452V462M619.5 357V442M619.5 448V451M619.5 452V454M619.5 456V462M620.5 357V451M620.5 452V471M621.5 357V449M621.5 452V467M622.5 367V408M622.5 409V436M622.5 438V449M622.5 450V471M623.5 367V408M623.5 409V435M623.5 438V449M623.5 450V463M624.5 354V427M624.5 428V435M624.5 438V450M624.5 451V463M625.5 354V427M625.5 428V435M625.5 437V441M625.5 443V450M625.5 451V463M626.5 354V427M626.5 428V441M626.5 443V450M626.5 451V466M626.5 468V471M627.5 369V471M628.5 370V403M628.5 404V412M628.5 413V417M628.5 423V445M628.5 446V460M628.5 462V471M629.5 370V412M629.5 413V474M630.5 370V408M630.5 411V447M630.5 448V450M630.5 452V466M630.5 472V474M631.5 380V447M631.5 448V450M631.5 452V473M632.5 380V447M632.5 448V450M632.5 452V462M632.5 463V473M633.5 380V447M633.5 448V462M633.5 463V473M634.5 393V419M634.5 421V462M634.5 463V466M634.5 467V487M634.5 488V500M634.5 501V508M635.5 393V409M635.5 410V419M635.5 421V487M635.5 488V500M635.5 505V508M636.5 393V409M636.5 410V478M636.5 479V503M636.5 505V506M637.5 406V419M637.5 422V449M637.5 451V478M637.5 479V515M637.5 517V547M637.5 549V552M638.5 406V515M638.5 517V547M638.5 549V552M639.5 405V420M639.5 421V515M639.5 517V547M639.5 549V552M640.5 405V420M640.5 421V498M640.5 500V532M641.5 422V433M641.5 434V498M641.5 500V501M641.5 503V524M641.5 525V530M642.5 422V426M642.5 434V457M642.5 458V459M642.5 460V462M642.5 466V498M642.5 500V501M642.5 503V524M642.5 527V530M643.5 422V426M643.5 428V433M643.5 434V459M643.5 460V463M643.5 465V502M643.5 503V525M643.5 527V534M644.5 421V489M644.5 493V513M644.5 515V525M644.5 527V534M645.5 421V489M645.5 493V504M645.5 505V513M645.5 515V524M645.5 528V534M646.5 421V458M646.5 459V491M646.5 493V504M646.5 505V513M646.5 515V518M646.5 520V524M647.5 413V436M647.5 439V518M647.5 520V524M647.5 526V527M648.5 413V436M648.5 439V527M649.5 413V440M649.5 441V506M649.5 507V513M649.5 515V526M649.5 527V530M650.5 427V440M650.5 443V468M650.5 472V506M650.5 507V513M650.5 515V526M650.5 527V530M651.5 427V435M651.5 437V467M651.5 469V491M651.5 493V506M651.5 507V521M651.5 522V526M652.5 429V435M652.5 437V460M652.5 463V467M652.5 469V527M653.5 429V435M653.5 437V507M653.5 509V527M654.5 423V527M655.5 418V421M655.5 423V442M655.5 443V454M655.5 456V527M655.5 529V540M656.5 418V421M656.5 423V454M656.5 456V513M656.5 515V525M656.5 526V536M656.5 537V540M657.5 418V513M657.5 515V524M657.5 525V536M657.5 537V540M658.5 431V440M658.5 442V523M658.5 525V530M658.5 532V536M659.5 427V431M659.5 432V440M659.5 442V523M659.5 525V536M660.5 427V440M660.5 442V502M660.5 508V523M660.5 525V541M661.5 427V445M661.5 447V528M661.5 529V541M662.5 434V445M662.5 447V528M662.5 529V530M662.5 532V562M663.5 434V528M663.5 529V530M663.5 532V562M664.5 440V478M664.5 479V530M664.5 532V551M664.5 558V562M665.5 440V475M665.5 476V478M665.5 479V486M665.5 487V531M665.5 532V548M666.5 450V475M666.5 476V478M666.5 479V486M666.5 487V531M666.5 532V548M667.5 450V557M667.5 559V562M668.5 451V475M668.5 476V478M668.5 480V551M668.5 553V557M668.5 559V562M669.5 451V454M669.5 456V466M669.5 467V478M669.5 480V488M669.5 489V490M669.5 491V494M669.5 498V539M669.5 540V541M669.5 544V557M669.5 559V565M669.5 567V572M670.5 451V454M670.5 456V478M670.5 480V484M670.5 485V487M670.5 489V490M670.5 491V539M670.5 540V565M670.5 567V568M670.5 570V572M671.5 459V490M671.5 491V492M671.5 494V568M671.5 570V621M672.5 459V465M672.5 467V492M672.5 494V621M673.5 454V464M673.5 467V492M673.5 494V497M673.5 499V621M674.5 454V465M674.5 467V485M674.5 487V497M674.5 499V635M675.5 454V474M675.5 476V485M675.5 487V497M675.5 499V635M676.5 488V515M676.5 517V521M676.5 523V637M677.5 488V515M677.5 517V637M678.5 488V498M678.5 500V663M679.5 504V516M679.5 517V536M679.5 538V663M680.5 504V516M680.5 517V536M680.5 538V660M681.5 504V507M681.5 508V536M681.5 538V539M681.5 540V660M682.5 534V539M682.5 540V565M682.5 566V660M683.5 534V537M683.5 538V539M683.5 540V545M683.5 547V565M683.5 566V658M684.5 536V537M684.5 538V545M684.5 554V565M684.5 566V658M685.5 536V537M685.5 538V541M685.5 547V553M685.5 554V565M685.5 569V658M686.5 536V565M686.5 567V696M687.5 556V696M688.5 556V569M688.5 570V696M689.5 556V563M689.5 565V569M689.5 570V579M689.5 580V696M690.5 565V570M690.5 571V572M690.5 573V597M690.5 598V696M691.5 565V572M691.5 573V597M691.5 598V705M691.5 711V713M692.5 576V597M692.5 598V713M693.5 576V579M693.5 580V584M693.5 585V586M693.5 588V708M694.5 576V579M694.5 580V584M694.5 585V586M694.5 588V708M695.5 602V722M696.5 602V722M697.5 602V722M698.5 606V731M699.5 606V731M700.5 621V731M701.5 621V734M702.5 621V734M703.5 627V734M704.5 627V745M705.5 627V751M706.5 623V751M707.5 623V751M708.5 599V743M709.5 599V743M710.5 599V743M711.5 589V743M712.5 589V745M713.5 583V745M714.5 583V742M715.5 583V742M716.5 602V742M717.5 602V747M718.5 585V747M719.5 585V747M720.5 585V749M721.5 618V744M721.5 745V749M722.5 618V646M722.5 647V744M722.5 745V749M723.5 618V646M723.5 647V744M723.5 745V749M724.5 634V646M724.5 647V749M725.5 634V749M726.5 644V659M726.5 660V761M727.5 644V761M728.5 635V761M729.5 635V751M730.5 635V751M731.5 638V755M732.5 638V755M733.5 620V755M734.5 620V723M734.5 724V764M735.5 620V760M736.5 613V764M737.5 613V764M738.5 630V764M739.5 610V764M740.5 610V772M741.5 610V772M742.5 632V773M743.5 632V773M744.5 630V785M745.5 630V785M746.5 645V791M747.5 645V791M748.5 654V784M749.5 654V657M749.5 659V796M750.5 657V796M751.5 657V661M751.5 663V796M752.5 660V661M752.5 663V788M753.5 660V794M754.5 654V794M755.5 654V784M756.5 654V784M757.5 647V784M758.5 647V739M758.5 741V780M759.5 652V739M759.5 741V780M760.5 652V752M760.5 753V773M761.5 637V640M761.5 643V773M762.5 637V765M763.5 637V765M764.5 615V766M765.5 615V766M766.5 615V766M767.5 625V748M768.5 625V748M769.5 652V748M770.5 652V754M771.5 652V754M772.5 644V754M773.5 644V759M774.5 631V758M775.5 631V758M776.5 631V758M777.5 642V747M778.5 642V747M779.5 642V747M780.5 614V758M781.5 614V758M782.5 614V758M783.5 619V739M784.5 627V739M785.5 627V717M786.5 627V717M787.5 621V737M788.5 621V746M789.5 621V746M790.5 627V637M790.5 639V746M791.5 627V746M792.5 633V737M793.5 633V737M794.5 629V748M795.5 629V748M796.5 633V748M797.5 633V735M798.5 637V735M799.5 637V736M800.5 637V736M801.5 638V736M802.5 638V741M803.5 638V741M804.5 644V734M805.5 644V734M806.5 645V742M807.5 645V742M808.5 645V742M809.5 644V732M809.5 733V744M810.5 644V732M810.5 733V744M811.5 641V749M812.5 641V749M813.5 641V685M813.5 689V746M814.5 646V746M815.5 646V742M816.5 646V742M817.5 647V743M818.5 647V743M819.5 632V756M820.5 632V756M821.5 625V748M822.5 625V748M823.5 606V609M823.5 611V748M824.5 606V758M825.5 606V758M826.5 623V758M827.5 623V749M828.5 623V743M829.5 627V743M830.5 627V741M831.5 627V741M832.5 622V741M833.5 622V736M834.5 639V736M835.5 639V736M836.5 639V739M837.5 629V670M837.5 671V739M838.5 629V670M838.5 671V745M839.5 640V745M840.5 640V740M841.5 643V740M842.5 643V760M843.5 655V760M844.5 655V760M845.5 655V753M846.5 646V753M847.5 646V761M848.5 646V761M849.5 664V761M850.5 664V752M851.5 661V758M852.5 661V758M853.5 664V758M854.5 664V761M855.5 664V694M855.5 695V761M856.5 662V694M856.5 695V761M857.5 662V750M858.5 650V750M859.5 650V745M860.5 650V745M861.5 664V745M862.5 664V736M863.5 667V736M864.5 667V733M865.5 667V680M865.5 682V733M866.5 656V680M866.5 682V729M867.5 656V729M868.5 656V695M868.5 697V726M869.5 640V695M869.5 697V726M870.5 640V726M871.5 640V703M872.5 632V703M873.5 632V703M874.5 632V664M874.5 666V684M874.5 685V698M875.5 582V664M875.5 666V698M876.5 582V664M876.5 666V685M877.5 582V685M878.5 593V691M879.5 593V691M880.5 577V691M881.5 577V684M882.5 577V684M883.5 534V684M884.5 526V678M885.5 526V678M886.5 526V672M887.5 537V672M888.5 540V672M889.5 540V668M890.5 540V668M891.5 536V675M892.5 536V675M893.5 525V675M894.5 525V665M895.5 515V646M896.5 515V646M897.5 515V646M898.5 498V643M899.5 498V643M900.5 498V650M901.5 513V650M902.5 513V627M902.5 629V650M903.5 517V627M903.5 629V665M904.5 517V686M905.5 517V520M905.5 522V686M906.5 527V686M907.5 527V675M908.5 535V558M908.5 559V675M909.5 535V671M910.5 535V671M911.5 541V671M912.5 541V667M913.5 541V667M914.5 550V658M915.5 550V658M916.5 550V656M917.5 555V656M918.5 555V653M919.5 555V653M920.5 528V653M921.5 528V654M922.5 528V654M923.5 513V632M923.5 634V654M924.5 513V632M924.5 634V643M925.5 513V632M925.5 634V643M926.5 478V641M927.5 478V641M928.5 478V632M929.5 486V632M930.5 486V632M931.5 476V619M932.5 455V458M932.5 459V619M933.5 455V458M933.5 459V592M934.5 455V592M935.5 475V592M936.5 486V614M937.5 486V614M938.5 495V627M939.5 495V655M940.5 495V498M940.5 500V655M941.5 478V655M942.5 478V652M943.5 478V652M944.5 508V644M945.5 508V644M946.5 509V639M947.5 509V639M948.5 509V642M949.5 502V642M950.5 502V642M951.5 500V617M952.5 500V617M953.5 500V617M954.5 479V602M955.5 479V602M956.5 479V614M957.5 452V614M958.5 452V457M958.5 459V463M958.5 464V614M959.5 452V457M959.5 459V601M959.5 608V612M960.5 469V612M961.5 469V601M962.5 469V601M963.5 477V609M964.5 477V609M965.5 477V610M966.5 494V610M967.5 494V619M968.5 494V619M969.5 502V635M970.5 502V635M971.5 502V632M972.5 511V632M973.5 511V632M974.5 504V629M975.5 504V629M976.5 508V652M977.5 508V652M978.5 499V515M978.5 516V655M979.5 499V515M979.5 516V655M980.5 499V515M980.5 516V655M981.5 547V659M982.5 547V659M983.5 566V685M984.5 566V685M985.5 566V685M986.5 576V579M986.5 580V685M987.5 576V685M988.5 571V685M989.5 571V674M990.5 571V693M991.5 561V693M992.5 561V693M993.5 561V664M994.5 533V664M995.5 533V683M996.5 533V548M996.5 550V683M997.5 542V548M997.5 550V575M997.5 577V666M998.5 542V550M998.5 552V562M998.5 563V575M998.5 577V666M999.5 542V550M999.5 552V575M999.5 577V666M1000.5 535V540M1000.5 545V550M1000.5 552V672M1001.5 535V579M1001.5 580V672M1002.5 516V579M1002.5 580V672M1003.5 516V532M1003.5 533V673M1004.5 516V532M1004.5 533V673M1005.5 534V673M1006.5 560V695M1007.5 560V695M1008.5 588V626M1008.5 629V695M1009.5 588V719M1010.5 608V614M1010.5 616V719M1011.5 608V719M1012.5 608V710M1012.5 712V725M1013.5 603V725M1014.5 603V740M1015.5 603V740M1016.5 616V623M1016.5 624V739M1017.5 616V623M1017.5 624V739M1018.5 622V759M1019.5 622V768M1020.5 618V768M1021.5 618V768M1022.5 553V756M1023.5 553V751M1023.5 752V756M1024.5 553V556M1024.5 557V731M1025.5 546V555M1025.5 557V567M1025.5 568V731M1026.5 546V556M1026.5 557V731M1027.5 546V563M1027.5 564V718M1028.5 548V718M1029.5 548V565M1029.5 566V706M1029.5 713V718M1030.5 509V520M1030.5 522V565M1030.5 566V724M1031.5 509V515M1031.5 516V520M1031.5 522V724M1032.5 502V508M1032.5 509V515M1032.5 516V724M1033.5 502V508M1033.5 510V534M1033.5 537V714M1034.5 499V508M1034.5 510V522M1034.5 524V544M1034.5 546V714M1035.5 499V502M1035.5 504V522M1035.5 524V542M1035.5 546V714M1036.5 499V502M1036.5 504V514M1036.5 516V542M1036.5 546V707M1037.5 518V534M1037.5 536V542M1037.5 544V707M1038.5 567V715M1039.5 567V715M1040.5 567V710M1040.5 711V714M1041.5 603V714M1042.5 603V719M1043.5 596V719M1044.5 596V600M1044.5 601V740M1045.5 609V740M1046.5 609V740M1047.5 649V755M1048.5 649V755M1049.5 646V738M1050.5 646V738M1051.5 665V738M1052.5 665V769M1053.5 660V769M1054.5 660V769M1055.5 660V778M1056.5 694V778M1057.5 694V801M1058.5 707V801M1059.5 707V801M1060.5 713V785M1060.5 787V792M1061.5 713V792M1062.5 723V807M1063.5 723V807M1064.5 723V807M1065.5 717V819M1066.5 717V819M1067.5 721V822M1068.5 721V822M1069.5 712V822M1070.5 712V832M1071.5 712V832M1072.5 730V849M1073.5 730V849M1074.5 736V840M1075.5 736V821M1075.5 822V840M1076.5 749V821M1076.5 822V850M1077.5 749V821M1077.5 822V850M1078.5 749V848M1079.5 779V848M1080.5 779V848M1081.5 795V848M1082.5 795V856M1083.5 794V856M1084.5 794V856M1085.5 779V873M1086.5 779V873M1087.5 779V873M1088.5 773V869M1089.5 773V869M1090.5 773V869M1091.5 754V880M1092.5 754V880M1093.5 750V880M1094.5 750V867M1095.5 736V867M1096.5 736V840M1097.5 711V840M1098.5 711V840M1099.5 711V813M1100.5 723V813M1101.5 723V808M1102.5 703V808M1103.5 703V808M1104.5 685V811M1105.5 685V811M1106.5 675V811M1107.5 675V812M1108.5 675V812M1109.5 697V809M1110.5 697V809M1111.5 697V809M1112.5 702V834M1113.5 702V834M1114.5 702V834M1115.5 702V819M1116.5 702V819M1117.5 690V793M1118.5 690V793M1119.5 690V793M1120.5 670V783M1121.5 670V783M1122.5 670V783M1123.5 666V790M1124.5 666V790M1125.5 661V783M1125.5 784V790M1126.5 661V777M1127.5 629V636M1127.5 638V777M1128.5 629V647M1128.5 648V777M1129.5 616V637M1129.5 639V761M1130.5 616V619M1130.5 621V622M1130.5 626V729M1130.5 732V761M1131.5 591V608M1131.5 609V619M1131.5 621V622M1131.5 623V757M1132.5 591V608M1132.5 609V622M1132.5 623V757M1133.5 591V757M1134.5 621V634M1134.5 635V636M1134.5 638V652M1134.5 653V760M1135.5 621V634M1135.5 635V636M1135.5 638V652M1135.5 653V760M1136.5 621V634M1136.5 635V760M1137.5 651V763M1138.5 651V763M1139.5 651V786M1140.5 648V657M1140.5 661V786M1141.5 648V791M1142.5 648V651M1142.5 653V661M1142.5 663V791M1143.5 664V667M1143.5 668V789M1144.5 664V799M1145.5 667V795M1145.5 797V799M1146.5 667V799M1147.5 667V671M1147.5 673V778M1148.5 665V671M1148.5 673V695M1148.5 697V795M1149.5 665V671M1149.5 673V795M1150.5 663V674M1150.5 675V774M1151.5 663V774M1152.5 663V679M1152.5 680V774M1153.5 646V649M1153.5 650V679M1153.5 680V765M1154.5 646V649M1154.5 650V660M1154.5 662V679M1154.5 680V765M1155.5 646V649M1155.5 650V655M1155.5 659V665M1155.5 667V765M1156.5 648V665M1156.5 667V685M1156.5 687V695M1156.5 697V776M1157.5 648V654M1157.5 656V685M1157.5 687V695M1157.5 697V776M1158.5 677V685M1158.5 687V695M1158.5 697V781M1159.5 677V781M1160.5 677V791M1161.5 682V810M1162.5 682V810M1163.5 684V810M1164.5 684V793M1165.5 699V801M1166.5 699V703M1166.5 705V710M1166.5 711V801M1167.5 691V703M1167.5 705V710M1167.5 711V805M1168.5 691V710M1168.5 711V805M1169.5 692V794M1170.5 692V794M1171.5 692V794M1172.5 692V799M1172.5 801V804M1173.5 668V797M1173.5 798V804M1174.5 668V687M1174.5 689V797M1174.5 798V810M1175.5 668V810M1176.5 693V805M1177.5 693V805M1178.5 687V805M1179.5 687V816M1180.5 682V722M1180.5 724V816M1181.5 682V722M1181.5 724V816M1182.5 695V823M1183.5 695V823M1184.5 695V823M1185.5 665V819M1186.5 665V790M1187.5 664V790M1188.5 664V802M1189.5 652V802M1190.5 652V803M1191.5 652V803M1192.5 652V788M1193.5 644V650M1193.5 651V788M1194.5 627V650M1194.5 651V788M1195.5 627V632M1195.5 634V757M1195.5 759V783M1196.5 627V632M1196.5 634V660M1196.5 664V757M1196.5 759V783M1197.5 646V650M1197.5 651V652M1197.5 654V788M1198.5 664V667M1198.5 670V788M1199.5 664V788M1200.5 664V671M1200.5 673V783M1201.5 675V783M1202.5 675V783M1203.5 680V784M1204.5 680V784M1205.5 685V799M1206.5 685V799M1207.5 685V789M1208.5 691V694M1208.5 696V789M1209.5 691V694M1209.5 696V703M1209.5 708V794M1210.5 691V794M1211.5 684V794M1212.5 684V792M1213.5 693V792M1214.5 693V792M1215.5 693V800M1216.5 693V800M1217.5 679V808M1218.5 679V808M1219.5 686V808M1220.5 686V802M1221.5 686V804M1222.5 686V804M1223.5 686V804M1224.5 679V801M1225.5 673V676M1225.5 678V801M1226.5 673V809M1227.5 673V676M1227.5 679V809M1228.5 693V822M1229.5 693V822M1230.5 693V822M1231.5 705V817M1232.5 705V817M1233.5 734V741M1233.5 743V817M1234.5 734V741M1234.5 743V818M1235.5 734V818M1236.5 729V840M1237.5 729V840M1238.5 735V840M1239.5 735V834M1240.5 735V834M1241.5 734V834M1242.5 734V821M1243.5 734V821M1244.5 731V828M1245.5 731V828M1246.5 731V811M1247.5 727V811M1248.5 727V811M1249.5 723V813M1250.5 723V813M1251.5 711V814M1252.5 711V721M1252.5 722V814M1253.5 707V721M1253.5 722V814M1254.5 707V834M1255.5 707V834M1256.5 714V834M1257.5 719V868M1258.5 719V868M1259.5 759V903M1260.5 759V903M1261.5 759V903M1262.5 803V901M1263.5 803V901M1264.5 784V891M1265.5 784V891M1266.5 784V888M1267.5 787V888M1268.5 787V880M1269.5 784V880M1270.5 784V889M1271.5 761V889M1272.5 761V889M1273.5 761V901M1274.5 764V901M1275.5 764V901M1276.5 783V900M1277.5 783V900M1278.5 784V876M1279.5 784V876M1280.5 777V876M1281.5 777V864M1282.5 777V864M1283.5 773V864M1284.5 773V864M1285.5 773V789M1285.5 790V864M1286.5 762V789M1286.5 790V867M1287.5 762V789M1287.5 790V878M1288.5 762V878M1289.5 755V878M1290.5 743V871M1291.5 743V871M1292.5 743V869M1293.5 751V869M1294.5 756V869M1295.5 756V880M1296.5 756V880M1297.5 759V880M1298.5 759V869M1299.5 759V869M1300.5 762V869M1301.5 762V871M1302.5 742V859M1302.5 861V871M1303.5 742V859M1303.5 861V871M1304.5 743V875M1305.5 743V746M1305.5 747V875M1306.5 743V746M1306.5 747V870M1306.5 871V875M1307.5 748V870M1308.5 748V870M1309.5 728V870M1310.5 726V850M1311.5 726V850M1312.5 726V850M1313.5 735V833M1314.5 741V833M1315.5 741V830M1316.5 743V830M1317.5 743V824M1318.5 732V824M1319.5 732V820M1319.5 821V824M1320.5 732V735M1320.5 738V811M1321.5 723V726M1321.5 728V811M1322.5 723V726M1322.5 728V811M1323.5 723V726M1323.5 728V821M1324.5 725V821M1325.5 712V825M1326.5 712V825M1327.5 712V825M1328.5 725V813M1329.5 725V811M1330.5 728V811M1331.5 728V782M1331.5 783V808M1332.5 725V808M1333.5 725V808"/>
<path id="green" stroke="#00ff00" stroke-width="1" shape-rendering="crispEdges" d="M326.5 297V340M326.5 343V446M327.5 297V308M327.5 309V323M327.5 324V340M327.5 343V446M328.5 297V305M328.5 310V317M328.5 322V340M328.5 342V446M329.5 299V305M329.5 310V317M329.5 322V447M330.5 299V302M330.5 308V316M330.5 320V346M330.5 347V407M330.5 409V447M331.5 300V302M331.5 303V314M331.5 316V317M331.5 320V322M331.5 324V346M331.5 347V407M331.5 409V447M332.5 300V302M332.5 303V314M332.5 316V318M332.5 320V325M332.5 327V335M332.5 337V342M332.5 343V346M332.5 347V444M333.5 300V302M333.5 303V307M333.5 308V314M333.5 316V318M333.5 322V325M333.5 328V329M333.5 330V335M333.5 337V444M334.5 303V307M334.5 308V319M334.5 321V325M334.5 328V329M334.5 330V444M335.5 303V307M335.5 308V319M335.5 321V325M335.5 326V329M335.5 330V446M336.5 303V319M336.5 321V446M337.5 305V319M337.5 321V328M337.5 329V350M337.5 352V446M338.5 305V323M338.5 325V328M338.5 329V333M338.5 336V350M338.5 352V454M339.5 301V303M339.5 305V309M339.5 312V323M339.5 325V328M339.5 329V333M339.5 337V454M340.5 303V309M340.5 312V313M340.5 316V322M340.5 325V328M340.5 329V330M340.5 331V334M340.5 337V453M341.5 299V301M341.5 303V304M341.5 308V309M341.5 310V314M341.5 316V321M341.5 325V330M341.5 331V333M341.5 334V453M342.5 306V307M342.5 308V314M342.5 316V321M342.5 328V333M342.5 334V348M342.5 351V442M343.5 305V307M343.5 308V309M343.5 311V314M343.5 316V318M343.5 319V321M343.5 330V333M343.5 334V442M344.5 298V299M344.5 305V307M344.5 308V310M344.5 311V318M344.5 320V322M344.5 323V324M344.5 332V333M344.5 334V336M344.5 338V444M345.5 295V296M345.5 298V299M345.5 305V309M345.5 310V312M345.5 313V318M345.5 320V326M345.5 328V329M345.5 332V336M345.5 338V444M346.5 295V302M346.5 304V309M346.5 310V312M346.5 313V320M346.5 322V329M346.5 332V336M346.5 338V444M347.5 305V309M347.5 310V315M347.5 316V320M347.5 322V330M347.5 333V456M348.5 310V315M348.5 317V320M348.5 322V325M348.5 326V331M348.5 333V456M349.5 310V311M349.5 313V315M349.5 317V320M349.5 323V324M349.5 327V331M349.5 333V456M350.5 309V311M350.5 313V315M350.5 316V320M350.5 323V324M350.5 327V329M350.5 330V466M351.5 309V311M351.5 313V315M351.5 316V320M351.5 323V324M351.5 327V329M351.5 330V333M351.5 334V466M352.5 310V311M352.5 314V320M352.5 323V329M352.5 330V331M352.5 334V466M353.5 303V306M353.5 310V313M353.5 314V320M353.5 323V331M353.5 334V457M354.5 304V306M354.5 311V313M354.5 314V457M355.5 304V306M355.5 311V318M355.5 319V326M355.5 329V331M355.5 333V477M356.5 303V306M356.5 307V308M356.5 309V310M356.5 311V312M356.5 313V315M356.5 316V318M356.5 319V326M356.5 329V331M356.5 333V336M356.5 338V477M357.5 303V310M357.5 311V312M357.5 313V315M357.5 316V318M357.5 319V336M357.5 338V468M358.5 303V310M358.5 311V312M358.5 313V317M358.5 321V328M358.5 330V333M358.5 336V345M358.5 346V468M359.5 307V312M359.5 313V314M359.5 321V328M359.5 330V333M359.5 336V339M359.5 341V345M359.5 346V514M360.5 307V314M360.5 321V322M360.5 323V328M360.5 330V333M360.5 336V514M361.5 305V308M361.5 310V315M361.5 317V318M361.5 321V322M361.5 327V328M361.5 330V334M361.5 337V348M361.5 350V503M361.5 504V514M362.5 305V308M362.5 310V319M362.5 320V322M362.5 330V334M362.5 337V348M362.5 350V500M363.5 307V308M363.5 310V320M363.5 321V323M363.5 324V325M363.5 327V334M363.5 337V348M363.5 350V500M364.5 310V313M364.5 315V320M364.5 321V322M364.5 324V325M364.5 327V337M364.5 342V530M365.5 310V319M365.5 321V322M365.5 324V530M366.5 300V302M366.5 305V310M366.5 312V319M366.5 320V321M366.5 324V530M367.5 300V310M367.5 312V313M367.5 315V316M367.5 318V319M367.5 324V334M367.5 335V526M368.5 300V316M368.5 318V334M368.5 335V526M369.5 381V520M370.5 381V401M370.5 403V490M370.5 492V520M371.5 381V490M371.5 492V515M372.5 386V490M372.5 492V515M373.5 386V401M373.5 403V522M374.5 386V391M374.5 393V401M374.5 403V522M375.5 393V401M375.5 403V436M375.5 438V522M376.5 393V400M376.5 401V436M376.5 438V532M377.5 393V396M377.5 398V400M377.5 401V532M378.5 393V396M378.5 398V400M378.5 401V565M379.5 393V396M379.5 398V565M380.5 393V570M381.5 399V570M382.5 399V405M382.5 406V571M383.5 406V571M384.5 406V571M385.5 408V581M386.5 408V581M387.5 415V581M388.5 415V600M389.5 415V600M390.5 421V600M391.5 421V589M392.5 419V589M393.5 419V605M394.5 425V605M395.5 425V608M396.5 430V608M397.5 430V621M398.5 430V621M399.5 428V621M400.5 428V642M401.5 428V642M402.5 423V438M402.5 440V646M403.5 423V438M403.5 440V646M404.5 423V438M404.5 440V649M405.5 430V649M406.5 430V665M407.5 428V656M407.5 658V665M408.5 428V665M409.5 440V648M410.5 440V635M411.5 431V635M412.5 431V635M413.5 431V622M414.5 437V622M415.5 437V631M416.5 437V631M417.5 442V631M418.5 442V618M419.5 444V618M420.5 444V608M421.5 444V608M422.5 442V608M423.5 442V611M424.5 445V611M425.5 445V574M425.5 576V611M426.5 445V574M426.5 576V613M427.5 454V574M427.5 576V613M428.5 454V613M429.5 454V618M430.5 453V618M431.5 453V618M432.5 455V637M433.5 455V630M433.5 632V637M434.5 455V630M434.5 632V637M435.5 464V631M436.5 464V631M437.5 464V612M437.5 619V658M438.5 466V658M439.5 466V663M440.5 469V663M441.5 469V663M442.5 469V643M443.5 474V639M444.5 474V639M445.5 475V639M446.5 475V638M447.5 477V638M448.5 477V638M449.5 479V638M450.5 479V638M451.5 479V636M452.5 479V650M453.5 479V650M454.5 479V650M455.5 479V647M456.5 479V640M457.5 495V620M457.5 622V640M458.5 495V620M458.5 622V647M459.5 485V620M459.5 622V647M460.5 485V648M461.5 490V648M462.5 490V648M463.5 490V643M464.5 470V650M465.5 455V650M466.5 455V650M467.5 455V643M468.5 473V648M469.5 471V648M470.5 471V648M471.5 471V657M472.5 471V657M473.5 481V657M474.5 481V620M474.5 622V660M475.5 481V620M475.5 622V660M476.5 500V620M476.5 622V678M477.5 500V678M478.5 529V678M479.5 529V676M480.5 529V676M481.5 529V676M482.5 529V713M483.5 539V713M484.5 539V713M485.5 539V703M486.5 518V703M487.5 518V703M488.5 514V695M489.5 514V695M490.5 465V695M491.5 465V692M492.5 476V685M492.5 686V692M493.5 476V685M493.5 686V692M494.5 476V662M495.5 452V662M496.5 433V662M497.5 433V451M497.5 453V664M498.5 433V445M498.5 447V664M499.5 448V461M499.5 462V616M499.5 617V664M500.5 501V616M500.5 617V666M501.5 501V616M501.5 617V666M502.5 501V666M503.5 544V661M504.5 544V644M504.5 645V661M505.5 551V561M505.5 562V644M505.5 645V661M506.5 551V561M506.5 562V682M507.5 573V682M508.5 573V682M509.5 573V677M510.5 562V673M510.5 674V677M511.5 562V673M511.5 674V677M512.5 573V673M512.5 674V680M513.5 573V680M514.5 573V680M515.5 537V709M516.5 537V709M517.5 537V696M518.5 560V696M519.5 560V723M520.5 563V723M521.5 563V723M522.5 568V756M523.5 568V589M523.5 594V756M524.5 568V768M525.5 561V768M526.5 561V768M527.5 562V763M528.5 562V763M529.5 562V715M530.5 551V715M531.5 551V715M532.5 549V702M533.5 549V702M534.5 549V702M535.5 541V636M535.5 638V677M536.5 541V636M536.5 638V677M537.5 541V636M537.5 638V677M538.5 509V668M539.5 509V668M540.5 497V651M541.5 479V485M541.5 487V651M542.5 479V485M542.5 487V651M543.5 479V661M544.5 491V502M544.5 504V661M545.5 517V668M546.5 517V668M547.5 517V668M548.5 563V602M548.5 604V723M549.5 563V723M550.5 563V755M551.5 577V755M552.5 577V763M553.5 577V763M554.5 585V772M555.5 585V772M556.5 588V790M557.5 588V790M558.5 588V790M559.5 589V777M560.5 589V777M561.5 589V777M562.5 589V716M563.5 573V716M564.5 573V735M565.5 573V735M566.5 571V735M567.5 566V720M568.5 566V720M569.5 566V720M570.5 590V721M571.5 596V721M572.5 596V739M573.5 601V739M574.5 601V729M575.5 605V729M576.5 605V749M577.5 605V749M578.5 611V749M579.5 611V762M580.5 611V762M581.5 605V753M582.5 605V773M583.5 614V773M584.5 614V728M584.5 730V773M585.5 614V728M585.5 730V759M586.5 614V759M587.5 614V759M588.5 622V713M588.5 715V759M589.5 622V713M589.5 715V759M590.5 622V743M591.5 626V743M592.5 626V743M593.5 626V733M594.5 619V733M595.5 619V741M596.5 622V741M597.5 622V667M597.5 668V734M598.5 622V734M599.5 612V734M600.5 612V738M601.5 590V738M602.5 590V748M603.5 590V748M604.5 596V748M605.5 611V743M606.5 611V743M607.5 611V735M608.5 610V705M608.5 706V735M609.5 610V732M610.5 610V746M611.5 587V746M612.5 587V746M613.5 603V725M614.5 603V725M615.5 584V741M616.5 584V741M617.5 584V713M618.5 551V713M619.5 551V711M620.5 551V711M621.5 562V710M622.5 562V710M623.5 577V602M623.5 604V710M624.5 577V714M625.5 585V714M626.5 585V714M627.5 568V726M628.5 568V726M629.5 589V735M630.5 589V735M631.5 589V752M632.5 598V752M633.5 598V752M634.5 598V753M635.5 600V753M636.5 600V761M637.5 600V761M638.5 605V761M639.5 605V742M640.5 600V742M641.5 600V742M642.5 595V750M643.5 595V750M644.5 595V740M645.5 595V740M646.5 595V740M647.5 592V721M648.5 592V721M649.5 578V721M650.5 578V721M651.5 578V721M652.5 600V717M653.5 599V717M654.5 599V717M655.5 602V801M656.5 602V801M657.5 602V801M658.5 662V848M659.5 662V854M660.5 677V681M660.5 682V854M661.5 677V681M661.5 682V854M662.5 677V842M663.5 686V842M664.5 686V834M665.5 685V834M666.5 685V834M667.5 678V834M668.5 678V834M669.5 678V822M670.5 679V822M671.5 679V822M672.5 657V822M673.5 650V822M674.5 650V826M675.5 650V826M676.5 658V837M677.5 658V837M678.5 658V831M679.5 667V831M680.5 667V831M681.5 670V839M682.5 670V839M683.5 679V839M684.5 679V844M685.5 679V849M686.5 693V849M687.5 693V849M688.5 693V839M689.5 699V743M689.5 748V839M690.5 699V839M691.5 720V841M692.5 720V841M693.5 720V841M694.5 723V835M695.5 723V835M696.5 721V731M696.5 733V835M697.5 721V731M697.5 733V832M698.5 721V726M698.5 728V832M699.5 733V834M700.5 733V830M700.5 832V834M701.5 733V826M702.5 736V826M703.5 736V825M704.5 736V739M704.5 741V825M705.5 742V828M706.5 742V828M707.5 748V828M708.5 748V827M709.5 754V780M709.5 782V827M710.5 754V823M711.5 754V823M712.5 754V823M713.5 754V816M714.5 755V816M715.5 755V816M716.5 739V822M717.5 739V745M717.5 747V822M718.5 739V745M718.5 747V822M719.5 747V881M720.5 747V881M721.5 747V929M722.5 741V929M723.5 741V747M723.5 749V931M724.5 741V746M724.5 749V931M725.5 730V739M725.5 744V747M725.5 748V931M726.5 730V734M726.5 741V747M726.5 748V933M727.5 726V730M727.5 731V933M728.5 726V730M728.5 733V925M729.5 726V730M729.5 731V735M729.5 737V738M729.5 740V925M730.5 737V738M730.5 740V925M731.5 737V937M732.5 750V937M733.5 750V939M734.5 755V759M734.5 760V761M734.5 763V939M735.5 755V939M736.5 753V947M737.5 753V947M738.5 753V760M738.5 762V947M739.5 775V938M740.5 775V932M740.5 934V938M741.5 775V932M741.5 934V938M742.5 785V937M743.5 785V937M744.5 785V937M745.5 784V945M746.5 784V788M746.5 789V918M746.5 920V945M747.5 779V788M747.5 789V918M747.5 920V941M748.5 779V941M749.5 794V941M750.5 794V946M751.5 798V946M752.5 798V946M753.5 788V946M754.5 788V791M754.5 794V947M755.5 795V947M756.5 795V947M757.5 788V804M757.5 808V958M758.5 788V794M758.5 795V958M759.5 788V794M759.5 795V950M760.5 790V794M760.5 795V950M761.5 790V950M762.5 790V947M763.5 790V947M764.5 778V956M765.5 778V956M766.5 778V951M767.5 787V951M768.5 787V965M769.5 787V965M770.5 789V982M771.5 789V992M772.5 789V992M773.5 794V992M774.5 794V978M775.5 790V978M776.5 790V978M777.5 787V961M778.5 787V961M779.5 776V961M780.5 776V947M781.5 776V947M782.5 770V942M783.5 770V942M784.5 770V942M785.5 754V939M786.5 754V939M787.5 753V759M787.5 762V939M788.5 753V942M789.5 736V749M789.5 750V942M790.5 736V749M790.5 750V937M791.5 736V937M792.5 711V937M793.5 711V718M793.5 719V945M794.5 711V715M794.5 716V718M794.5 719V720M794.5 727V945M795.5 711V715M795.5 716V718M795.5 719V945M796.5 711V714M796.5 716V939M797.5 711V714M797.5 716V717M797.5 719V939M798.5 740V938M799.5 750V938M800.5 750V938M801.5 757V945M802.5 757V945M803.5 781V945M804.5 781V947M805.5 781V947M806.5 804V947M807.5 804V944M808.5 818V944M809.5 818V944M810.5 818V950M811.5 816V950M812.5 816V950M813.5 815V958M814.5 815V958M815.5 818V958M816.5 809V957M817.5 809V957M818.5 809V957M819.5 828V965M820.5 828V978M821.5 839V978M822.5 839V978M823.5 839V959M823.5 960V973M824.5 822V973M825.5 822V968M826.5 822V968M827.5 794V949M828.5 794V949M829.5 794V948M830.5 804V948M831.5 804V948M832.5 790V956M833.5 790V956M834.5 790V957M835.5 794V957M836.5 794V806M836.5 807V957M837.5 794V806M837.5 807V952M838.5 797V952M839.5 783V952M840.5 783V944M841.5 783V944M842.5 792V944M843.5 788V947M844.5 788V947M845.5 794V947M846.5 794V940M847.5 786V793M847.5 794V940M848.5 786V793M848.5 794V940M849.5 782V939M850.5 782V939M851.5 768V939M852.5 768V944M853.5 769V944M854.5 769V944M855.5 749V921M855.5 923V939M856.5 749V921M856.5 923V939M857.5 763V802M857.5 804V946M858.5 763V802M858.5 804V946M859.5 763V802M859.5 804V942M860.5 731V942M861.5 731V742M861.5 744V942M862.5 731V735M862.5 737V742M862.5 744V937M863.5 688V696M863.5 698V708M863.5 709V724M863.5 725V735M863.5 737V742M863.5 744V937M864.5 670V680M864.5 682V696M864.5 698V708M864.5 709V735M864.5 737V937M865.5 670V676M865.5 677V680M865.5 682V694M865.5 695V696M865.5 698V708M865.5 709V944M866.5 670V676M866.5 677V680M866.5 682V694M866.5 695V944M867.5 681V685M867.5 686V693M867.5 694V726M867.5 730V938M868.5 690V693M868.5 694V701M868.5 702V710M868.5 711V715M868.5 716V938M869.5 690V693M869.5 694V697M869.5 699V705M869.5 706V710M869.5 711V715M869.5 716V950M870.5 690V697M870.5 699V705M870.5 706V715M870.5 716V718M870.5 720V950M871.5 696V697M871.5 699V705M871.5 706V950M872.5 696V948M873.5 713V948M874.5 713V946M875.5 713V946M876.5 723V949M877.5 723V949M878.5 723V949M879.5 737V955M880.5 737V955M881.5 737V955M882.5 745V755M882.5 756V947M883.5 745V755M883.5 756V947M884.5 745V959M885.5 765V959M886.5 765V959M887.5 769V950M888.5 769V950M889.5 769V959M890.5 778V959M891.5 778V949M892.5 776V949M893.5 776V956M894.5 776V963M895.5 782V963M896.5 782V963M897.5 778V952M898.5 778V952M899.5 778V953M900.5 786V953M901.5 786V959M902.5 789V959M903.5 789V802M903.5 803V959M904.5 789V802M904.5 803V816M904.5 823V959M905.5 789V960M906.5 784V960M907.5 784V917M907.5 922V961M908.5 802V961M909.5 802V969M910.5 797V969M911.5 797V969M912.5 823V964M913.5 823V964M914.5 823V964M915.5 815V965M916.5 815V965M917.5 815V967M918.5 841V967M919.5 841V976M920.5 841V976M921.5 841V854M921.5 855V976M922.5 831V854M922.5 855V964M923.5 814V854M923.5 855V969M924.5 814V969M925.5 814V817M925.5 818V969M926.5 834V957M927.5 834V957M928.5 842V876M928.5 877V960M929.5 842V960M930.5 846V952M931.5 846V952M932.5 846V952M933.5 838V948M934.5 838V948M935.5 838V947M936.5 829V928M936.5 930V947M937.5 829V928M937.5 930V951M938.5 829V928M938.5 930V951M939.5 840V951M940.5 833V949M941.5 833V949M942.5 845V949M943.5 845V955M944.5 842V955M945.5 842V957M946.5 842V957M947.5 841V957M948.5 841V965M949.5 841V965M950.5 851V965M951.5 851V958M952.5 841V953M953.5 841V953M954.5 858V862M954.5 863V953M955.5 858V862M955.5 863V910M955.5 912V949M956.5 858V862M956.5 863V910M956.5 912V949M957.5 858V949M958.5 858V952M959.5 858V952M960.5 869V952M961.5 869V953M962.5 856V953M963.5 856V954M964.5 856V954M965.5 857V954M966.5 857V893M966.5 899V949M967.5 836V948M968.5 836V849M968.5 850V948M969.5 844V849M969.5 850V950M970.5 844V950M971.5 845V961M972.5 845V961M973.5 819V970M974.5 819V970M975.5 819V967M976.5 821V833M976.5 834V967M977.5 832V833M977.5 834V967M978.5 821V982M979.5 821V982M980.5 821V982M981.5 834V979M982.5 842V979M983.5 842V979M984.5 841V940M985.5 841V940M986.5 841V952M987.5 782V952M988.5 782V789M988.5 791V952M989.5 732V789M989.5 791V925M990.5 732V925M991.5 732V948M992.5 764V948M993.5 843V937M994.5 843V937M995.5 843V941M996.5 868V941M997.5 868V942M998.5 865V942M999.5 865V952M1000.5 847V952M1001.5 847V962M1002.5 847V962M1003.5 855V954M1004.5 829V954M1005.5 829V925M1005.5 927V962M1006.5 829V925M1006.5 927V962M1007.5 843V967M1008.5 843V967M1009.5 857V974M1010.5 857V974M1011.5 837V974M1012.5 837V957M1013.5 851V957M1014.5 851V957M1015.5 851V941M1015.5 943V956M1016.5 781V784M1016.5 785V956M1017.5 781V784M1017.5 785V963M1018.5 781V784M1018.5 785V963M1019.5 812V957M1020.5 812V957M1021.5 825V842M1021.5 844V990M1022.5 825V842M1022.5 844V845M1022.5 846V990M1023.5 825V842M1023.5 844V845M1023.5 846V990M1024.5 795V845M1024.5 846V961M1025.5 795V961M1026.5 744V961M1027.5 744V918M1028.5 744V918M1029.5 751V918M1030.5 751V897M1031.5 761V897M1032.5 761V892M1033.5 761V892M1034.5 767V903M1035.5 767V903M1036.5 775V908M1037.5 775V908M1038.5 775V908M1039.5 787V907M1040.5 787V907M1041.5 794V907M1042.5 794V914M1043.5 797V914M1044.5 797V914M1045.5 784V919M1046.5 784V919M1047.5 784V919M1048.5 784V789M1048.5 790V895M1049.5 784V789M1049.5 790V895M1050.5 770V895M1051.5 770V890M1052.5 770V890M1053.5 794V890M1054.5 794V897M1055.5 794V897M1056.5 782V927M1057.5 782V927M1058.5 782V789M1058.5 791V927M1059.5 799V927M1060.5 799V841M1060.5 843V927M1061.5 807V931M1062.5 807V931M1063.5 807V931M1064.5 821V947M1065.5 821V947M1066.5 821V947M1067.5 837V956M1068.5 837V956M1069.5 841V959M1070.5 841V969M1071.5 841V969M1072.5 843V969M1073.5 843V848M1073.5 849V955M1074.5 843V848M1074.5 849V955M1075.5 849V955M1076.5 848V877M1076.5 882V948M1077.5 835V838M1077.5 839V846M1077.5 848V948M1078.5 822V846M1078.5 848V946M1079.5 822V829M1079.5 831V846M1079.5 848V946M1080.5 822V827M1080.5 828V949M1081.5 833V943M1082.5 831V850M1082.5 851V950M1083.5 831V950M1084.5 831V849M1084.5 850V956M1085.5 840V870M1085.5 875V956M1086.5 840V867M1086.5 869V965M1087.5 840V854M1087.5 856V965M1088.5 838V841M1088.5 843V844M1088.5 846V854M1088.5 856V965M1089.5 838V841M1089.5 843V844M1089.5 846V849M1089.5 851V854M1089.5 856V962M1090.5 838V841M1090.5 846V849M1090.5 851V854M1090.5 856V954M1091.5 834V841M1091.5 845V954M1092.5 834V952M1093.5 834V838M1093.5 840V952M1094.5 843V858M1094.5 861V958M1095.5 834V838M1095.5 840V958M1096.5 834V837M1096.5 839V958M1097.5 834V975M1098.5 839V975M1099.5 839V983M1100.5 854V983M1101.5 854V979M1102.5 854V979M1103.5 848V969M1104.5 848V969M1105.5 872V979M1106.5 872V906M1106.5 907V979M1107.5 872V982M1108.5 872V982M1109.5 872V997M1110.5 885V997M1111.5 885V997M1112.5 885V924M1112.5 925V978M1113.5 875V924M1113.5 925V978M1114.5 875V924M1114.5 925V963M1115.5 883V963M1116.5 883V969M1117.5 885V969M1118.5 885V969M1119.5 882V960M1120.5 882V960M1121.5 859V955M1122.5 859V955M1123.5 868V895M1123.5 896V948M1124.5 845V895M1124.5 896V948M1125.5 845V895M1125.5 896V952M1126.5 845V952M1127.5 857V940M1128.5 857V940M1129.5 857V939M1130.5 857V939M1131.5 857V937M1132.5 849V937M1133.5 849V937M1134.5 849V935M1135.5 830V935M1136.5 830V941M1137.5 830V941M1138.5 819V941M1139.5 813V951M1140.5 813V951M1141.5 813V951M1142.5 840V955M1143.5 840V955M1144.5 847V970M1145.5 847V970M1146.5 856V970M1147.5 856V968M1148.5 856V968M1149.5 865V968M1150.5 865V953M1151.5 868V953M1152.5 868V957M1153.5 852V957M1154.5 852V957M1155.5 852V961M1156.5 851V961M1157.5 850V961M1158.5 850V957M1159.5 850V957M1160.5 868V967M1161.5 868V967M1162.5 868V967M1163.5 860V954M1164.5 860V954M1165.5 871V952M1166.5 871V952M1167.5 871V945M1168.5 850V945M1169.5 850V945M1170.5 817V942M1171.5 817V942M1172.5 817V942M1173.5 827V938M1174.5 827V938M1175.5 827V937M1176.5 827V937M1177.5 830V861M1177.5 863V935M1178.5 817V929M1178.5 930V935M1179.5 817V929M1179.5 930V935M1180.5 817V929M1181.5 832V929M1182.5 832V921M1183.5 827V921M1184.5 827V929M1185.5 830V929M1186.5 830V929M1187.5 830V939M1188.5 832V939M1189.5 832V840M1189.5 841V953M1190.5 832V840M1190.5 841V953M1191.5 808V953M1192.5 808V937M1192.5 938V944M1193.5 808V944M1194.5 811V944M1195.5 811V982M1196.5 808V982M1197.5 808V982M1198.5 808V1035M1199.5 802V1053M1200.5 802V1053M1201.5 802V1053M1202.5 793V799M1202.5 801V1039M1203.5 793V799M1203.5 801V1039M1204.5 793V1042M1205.5 794V1042M1206.5 801V1042M1207.5 801V1043M1208.5 801V1043M1209.5 790V1043M1210.5 790V1026M1211.5 790V1026M1212.5 833V1030M1213.5 833V1030M1214.5 863V1030M1215.5 863V1030M1216.5 863V1030M1217.5 910V1030M1218.5 910V930M1218.5 936V1050M1219.5 910V1050M1220.5 944V1050M1221.5 944V1053M1222.5 944V1053M1223.5 955V1053M1224.5 955V1076M1224.5 1077V1080M1225.5 955V1080M1226.5 960V1075M1227.5 960V1075M1228.5 966V982M1228.5 984V1075M1229.5 966V982M1229.5 984V1091M1230.5 966V1091M1231.5 970V1091M1232.5 970V1091M1233.5 965V1091M1234.5 965V1099M1235.5 972V1099M1236.5 972V1099M1237.5 972V1006M1237.5 1009V1103M1238.5 964V1108M1239.5 964V1108M1240.5 964V1108M1241.5 973V1103M1242.5 973V1103M1243.5 973V1103M1244.5 973V1103M1245.5 965V1103M1246.5 965V1103M1247.5 965V1103M1248.5 968V1107M1249.5 956V1107M1250.5 956V1107M1251.5 956V1089M1252.5 964V1086M1253.5 967V1086M1254.5 967V1086M1255.5 967V1085M1256.5 961V1085M1257.5 961V1069M1258.5 966V1069M1259.5 956V1069M1260.5 956V1064M1261.5 956V1077M1262.5 964V1077M1263.5 964V1077M1264.5 964V1063M1265.5 964V1063M1266.5 961V1063M1267.5 961V1063M1268.5 961V1054M1269.5 968V1054M1270.5 968V1058M1271.5 968V1058M1272.5 968V1058M1273.5 969V1058M1274.5 969V1082M1275.5 970V992M1275.5 994V1082M1276.5 970V1092M1276.5 1094V1101M1277.5 970V1092M1277.5 1094V1101M1278.5 966V1101M1279.5 966V1076M1280.5 966V1076M1281.5 966V1066M1282.5 966V1066M1283.5 966V1066M1284.5 956V1043M1285.5 956V1043M1286.5 956V1044M1287.5 969V1044M1288.5 968V1044M1289.5 968V1049M1290.5 968V1049M1291.5 966V1078M1292.5 966V1078M1293.5 965V1078M1294.5 965V1067M1295.5 965V1067M1296.5 965V1067M1297.5 965V1074M1298.5 967V1088M1299.5 967V973M1299.5 974V1040M1299.5 1042V1088M1300.5 965V1040M1300.5 1042V1088M1301.5 965V1040M1301.5 1042V1082M1302.5 969V1069M1302.5 1076V1082M1303.5 969V1082M1304.5 969V1075M1305.5 967V1075M1306.5 967V1075M1307.5 967V1075M1308.5 953V1042M1308.5 1043V1071M1309.5 953V1071M1310.5 947V1071M1311.5 947V1071M1312.5 951V1062M1313.5 951V967M1313.5 969V1047M1313.5 1048V1062M1314.5 951V967M1314.5 969V1063M1315.5 940V967M1315.5 969V1063M1316.5 940V1034M1316.5 1037V1049M1317.5 940V1075M1318.5 923V1075M1319.5 923V1075M1320.5 875V1045M1321.5 875V1045M1322.5 875V1040M1323.5 853V1040M1324.5 853V1040M1325.5 834V1046M1326.5 813V1046M1327.5 813V1046M1328.5 813V1034M1329.5 815V1034M1330.5 815V819M1330.5 820V1041M1331.5 826V1041M1332.5 826V1041M1333.5 826V1024"/>
<path id="pink" stroke="#ff0080" stroke-width="1" shape-rendering="crispEdges" d="M326.5 275V414M326.5 415V458M327.5 275V298M327.5 299V413M327.5 415V434M327.5 436V458M328.5 275V278M328.5 281V284M328.5 285V298M328.5 299V301M328.5 303V322M328.5 323V413M328.5 414V458M329.5 285V291M329.5 292V296M329.5 299V300M329.5 303V308M329.5 310V311M329.5 313V320M329.5 323V337M329.5 340V433M329.5 434V435M329.5 436V441M329.5 444V450M330.5 284V291M330.5 295V296M330.5 302V311M330.5 313V315M330.5 319V320M330.5 323V330M330.5 333V337M330.5 340V409M330.5 410V433M330.5 434V437M330.5 439V442M330.5 444V450M331.5 284V291M331.5 300V301M331.5 302V308M331.5 309V311M331.5 313V315M331.5 319V320M331.5 323V330M331.5 338V409M331.5 410V411M331.5 413V433M331.5 434V442M331.5 444V450M332.5 297V298M332.5 300V301M332.5 302V308M332.5 309V311M332.5 312V315M332.5 319V320M332.5 323V327M332.5 328V330M332.5 334V411M332.5 413V450M333.5 297V298M333.5 302V304M333.5 305V308M333.5 309V311M333.5 312V314M333.5 318V327M333.5 328V330M333.5 334V339M333.5 341V411M333.5 413V431M333.5 438V448M334.5 305V308M334.5 310V314M334.5 317V319M334.5 322V326M334.5 328V333M334.5 334V339M334.5 341V352M334.5 354V406M334.5 409V436M334.5 438V441M334.5 442V448M335.5 305V308M335.5 312V313M335.5 317V319M335.5 321V323M335.5 328V339M335.5 341V413M335.5 415V441M335.5 442V448M336.5 307V308M336.5 312V313M336.5 315V319M336.5 328V329M336.5 332V338M336.5 341V346M336.5 352V413M336.5 415V421M336.5 422V424M336.5 426V441M336.5 442V450M337.5 307V310M337.5 312V319M337.5 332V338M337.5 341V342M337.5 345V413M337.5 415V421M337.5 422V424M337.5 426V438M337.5 440V450M338.5 313V318M338.5 323V324M338.5 332V336M338.5 341V351M338.5 356V357M338.5 359V450M339.5 313V317M339.5 325V326M339.5 328V329M339.5 333V336M339.5 341V357M339.5 359V402M339.5 404V416M339.5 418V423M339.5 424V428M339.5 429V436M339.5 438V447M340.5 313V317M340.5 320V323M340.5 325V327M340.5 330V332M340.5 334V336M340.5 341V357M340.5 360V402M340.5 404V416M340.5 418V420M340.5 421V428M340.5 429V436M340.5 442V443M341.5 313V317M341.5 320V323M341.5 325V327M341.5 330V332M341.5 334V336M341.5 342V353M341.5 354V358M341.5 360V416M341.5 418V420M341.5 421V428M341.5 429V442M341.5 443V447M341.5 454V460M342.5 313V315M342.5 317V323M342.5 326V332M342.5 334V336M342.5 338V339M342.5 342V353M342.5 354V420M342.5 422V428M342.5 432V460M343.5 313V315M343.5 320V325M343.5 326V332M343.5 334V336M343.5 338V339M343.5 342V353M343.5 354V420M343.5 422V435M343.5 442V460M344.5 301V302M344.5 303V317M344.5 326V334M344.5 338V339M344.5 342V417M344.5 418V426M344.5 428V441M345.5 301V302M345.5 305V308M345.5 310V311M345.5 313V314M345.5 315V316M345.5 326V334M345.5 338V407M345.5 409V414M345.5 415V417M345.5 418V425M345.5 430V432M345.5 433V441M346.5 300V302M346.5 307V308M346.5 310V311M346.5 319V323M346.5 326V329M346.5 331V334M346.5 340V407M346.5 409V413M346.5 415V417M346.5 418V424M346.5 425V426M346.5 428V432M346.5 433V434M346.5 437V443M346.5 445V455M347.5 312V313M347.5 316V317M347.5 318V323M347.5 326V329M347.5 332V334M347.5 340V344M347.5 345V352M347.5 354V407M347.5 409V420M347.5 421V424M347.5 425V428M347.5 430V432M347.5 433V443M347.5 445V446M347.5 449V455M348.5 314V317M348.5 318V320M348.5 322V327M348.5 330V336M348.5 339V352M348.5 354V424M348.5 425V428M348.5 430V435M348.5 436V444M348.5 445V446M348.5 448V451M348.5 453V455M349.5 307V308M349.5 314V317M349.5 318V320M349.5 322V323M349.5 325V327M349.5 330V352M349.5 354V420M349.5 422V426M349.5 433V434M349.5 436V439M350.5 307V308M350.5 314V319M350.5 321V323M350.5 326V331M350.5 334V420M350.5 422V429M350.5 431V439M351.5 314V315M351.5 318V319M351.5 321V323M351.5 325V326M351.5 340V347M351.5 349V392M351.5 395V397M351.5 398V420M351.5 422V429M351.5 431V436M352.5 314V315M352.5 318V320M352.5 321V323M352.5 334V335M352.5 337V338M352.5 342V347M352.5 349V392M352.5 395V413M352.5 415V428M352.5 431V447M352.5 449V451M353.5 307V308M353.5 314V315M353.5 318V320M353.5 321V323M353.5 331V335M353.5 337V338M353.5 341V348M353.5 351V413M353.5 415V447M353.5 449V451M354.5 314V317M354.5 319V323M354.5 331V332M354.5 334V335M354.5 337V339M354.5 341V348M354.5 351V407M354.5 409V426M354.5 428V440M354.5 441V447M354.5 449V451M355.5 312V317M355.5 319V323M355.5 326V327M355.5 334V335M355.5 338V339M355.5 341V349M355.5 351V407M355.5 409V426M355.5 428V447M356.5 298V302M356.5 306V307M356.5 309V317M356.5 319V327M356.5 334V336M356.5 337V339M356.5 341V407M356.5 409V432M356.5 434V447M357.5 298V303M357.5 306V307M357.5 308V311M357.5 312V320M357.5 327V328M357.5 334V422M357.5 423V432M357.5 439V447M358.5 300V303M358.5 306V309M358.5 310V311M358.5 312V313M358.5 319V328M358.5 334V338M358.5 341V432M358.5 434V452M359.5 308V309M359.5 310V311M359.5 319V323M359.5 329V332M359.5 333V338M359.5 341V452M360.5 310V314M360.5 315V316M360.5 319V322M360.5 326V327M360.5 331V333M360.5 341V408M360.5 410V440M360.5 442V452M361.5 312V315M361.5 319V322M361.5 331V333M361.5 336V338M361.5 341V355M361.5 361V440M361.5 442V452M361.5 453V459M361.5 460V469M362.5 312V313M362.5 314V315M362.5 319V322M362.5 331V333M362.5 334V339M362.5 341V343M362.5 344V345M362.5 347V357M362.5 359V450M362.5 452V459M362.5 460V469M363.5 312V313M363.5 314V315M363.5 320V322M363.5 331V333M363.5 334V339M363.5 341V345M363.5 347V354M363.5 355V357M363.5 359V428M363.5 433V452M363.5 453V457M363.5 459V460M363.5 461V462M363.5 464V469M364.5 312V314M364.5 326V327M364.5 330V333M364.5 337V339M364.5 341V354M364.5 355V357M364.5 359V452M364.5 453V457M364.5 459V460M364.5 461V463M364.5 464V472M364.5 474V483M364.5 485V489M365.5 300V301M365.5 302V305M365.5 306V309M365.5 312V313M365.5 317V322M365.5 326V328M365.5 332V333M365.5 337V339M365.5 341V357M365.5 359V443M365.5 444V452M365.5 453V457M365.5 459V460M365.5 468V483M365.5 485V489M366.5 300V301M366.5 302V304M366.5 308V309M366.5 312V313M366.5 317V321M366.5 326V328M366.5 332V333M366.5 337V339M366.5 341V448M366.5 452V483M366.5 485V489M367.5 300V301M367.5 302V303M367.5 312V313M367.5 317V321M367.5 325V328M367.5 330V333M367.5 334V335M367.5 341V465M367.5 467V479M367.5 480V491M367.5 495V497M367.5 501V502M368.5 328V375M368.5 379V465M368.5 467V479M368.5 480V502M369.5 366V375M369.5 377V400M369.5 405V408M369.5 409V465M369.5 467V485M369.5 486V493M369.5 495V515M370.5 366V374M370.5 377V382M370.5 387V408M370.5 409V473M370.5 474V485M370.5 486V493M370.5 495V508M370.5 512V515M371.5 366V375M371.5 376V408M371.5 409V468M371.5 470V473M371.5 474V485M371.5 486V493M371.5 495V501M371.5 504V515M372.5 374V375M372.5 376V383M372.5 385V399M372.5 401V418M372.5 419V468M372.5 474V493M372.5 495V501M372.5 504V507M373.5 374V383M373.5 385V399M373.5 401V414M373.5 416V418M373.5 419V454M373.5 455V457M373.5 463V468M373.5 470V489M373.5 490V497M373.5 498V501M374.5 374V387M374.5 388V399M374.5 401V414M374.5 416V489M374.5 490V497M374.5 498V501M375.5 379V412M375.5 413V497M375.5 498V499M376.5 379V388M376.5 389V412M376.5 413V476M376.5 477V478M376.5 480V483M376.5 485V493M376.5 495V499M377.5 378V381M377.5 383V388M377.5 389V396M377.5 403V412M377.5 413V454M377.5 455V476M377.5 477V493M377.5 495V499M378.5 378V381M378.5 383V388M378.5 389V412M378.5 413V415M378.5 417V454M378.5 455V487M378.5 489V493M378.5 495V504M379.5 378V381M379.5 382V412M379.5 413V415M379.5 417V486M379.5 487V500M379.5 502V504M380.5 387V416M380.5 418V479M380.5 481V489M380.5 491V500M380.5 502V504M381.5 387V390M381.5 396V413M381.5 416V474M381.5 481V489M381.5 493V500M381.5 502V516M382.5 387V413M382.5 417V423M382.5 425V479M382.5 481V496M382.5 497V512M383.5 387V390M383.5 391V414M383.5 417V490M383.5 493V496M383.5 498V511M383.5 512V516M384.5 387V390M384.5 391V399M384.5 400V411M384.5 413V415M384.5 417V496M384.5 497V514M384.5 515V518M384.5 519V523M385.5 387V390M385.5 391V399M385.5 400V402M385.5 408V411M385.5 413V501M385.5 508V514M385.5 515V518M385.5 521V523M386.5 390V399M386.5 400V406M386.5 407V411M386.5 413V480M386.5 481V494M386.5 496V505M386.5 506V516M386.5 517V518M386.5 521V523M387.5 390V393M387.5 398V406M387.5 407V485M387.5 490V494M387.5 496V499M387.5 502V505M387.5 506V516M387.5 517V524M388.5 397V428M388.5 429V431M388.5 433V499M388.5 501V509M388.5 511V516M388.5 517V524M389.5 397V400M389.5 403V431M389.5 433V499M389.5 501V519M389.5 520V524M390.5 397V400M390.5 406V409M390.5 410V442M390.5 443V483M390.5 486V506M390.5 507V518M390.5 520V524M391.5 396V400M391.5 403V404M391.5 405V408M391.5 410V442M391.5 443V506M391.5 507V514M391.5 516V518M391.5 521V533M392.5 396V400M392.5 403V404M392.5 405V408M392.5 410V433M392.5 435V442M392.5 447V496M392.5 498V514M392.5 516V518M392.5 521V533M393.5 393V401M393.5 403V404M393.5 405V408M393.5 410V433M393.5 435V496M393.5 498V555M394.5 393V399M394.5 405V433M394.5 435V496M394.5 498V529M394.5 531V540M394.5 547V555M395.5 408V448M395.5 453V529M395.5 531V551M395.5 554V555M396.5 408V445M396.5 451V551M396.5 553V554M397.5 408V438M397.5 440V447M397.5 449V450M397.5 451V525M397.5 526V540M397.5 541V554M398.5 404V447M398.5 449V450M398.5 451V564M398.5 565V568M399.5 404V407M399.5 409V436M399.5 438V447M399.5 449V532M399.5 533V564M399.5 567V570M399.5 572V575M400.5 410V436M400.5 438V451M400.5 452V549M400.5 551V563M400.5 567V570M400.5 572V575M401.5 410V445M401.5 446V451M401.5 452V518M401.5 520V522M401.5 523V531M401.5 532V539M401.5 541V548M402.5 406V409M402.5 411V430M402.5 433V451M402.5 452V513M402.5 514V518M402.5 520V531M402.5 532V537M402.5 541V542M402.5 543V548M403.5 406V409M403.5 411V416M403.5 417V485M403.5 486V513M403.5 514V518M403.5 520V524M404.5 412V416M404.5 417V423M404.5 424V448M404.5 455V513M404.5 514V524M405.5 399V423M405.5 424V439M405.5 440V520M405.5 522V545M406.5 399V423M406.5 424V517M406.5 518V520M406.5 522V545M407.5 399V402M407.5 404V438M407.5 439V520M407.5 522V523M407.5 524V545M408.5 410V413M408.5 418V429M408.5 431V438M408.5 439V516M408.5 517V523M408.5 524V547M408.5 552V564M409.5 410V438M409.5 439V449M409.5 451V523M409.5 524V560M409.5 562V564M410.5 414V449M410.5 456V558M411.5 414V450M411.5 451V459M411.5 466V553M412.5 421V438M412.5 448V533M412.5 534V553M412.5 554V558M413.5 421V433M413.5 438V446M413.5 447V464M413.5 466V533M413.5 534V553M413.5 554V577M414.5 421V448M414.5 449V452M414.5 456V464M414.5 466V532M414.5 534V556M414.5 559V561M414.5 562V577M415.5 413V464M415.5 466V532M415.5 534V552M415.5 553V557M415.5 559V561M415.5 562V570M415.5 571V572M415.5 574V577M416.5 413V438M416.5 439V535M416.5 542V545M416.5 547V550M416.5 553V554M417.5 413V438M417.5 439V446M417.5 449V452M417.5 453V504M417.5 505V514M417.5 515V519M417.5 521V536M418.5 423V452M418.5 453V464M418.5 465V504M418.5 505V514M418.5 515V537M418.5 539V543M419.5 423V451M419.5 453V464M419.5 465V514M419.5 515V519M419.5 520V547M420.5 423V451M420.5 452V461M420.5 462V464M420.5 465V514M420.5 516V519M420.5 520V524M420.5 526V539M420.5 540V547M421.5 418V445M421.5 447V448M421.5 449V451M421.5 452V519M421.5 520V539M421.5 540V547M422.5 418V445M422.5 447V487M422.5 488V530M423.5 425V445M423.5 447V460M423.5 462V487M423.5 488V496M423.5 500V510M423.5 512V530M424.5 425V460M424.5 462V487M424.5 488V489M424.5 491V499M424.5 500V510M424.5 512V528M425.5 425V461M425.5 463V489M425.5 491V499M425.5 500V504M425.5 507V510M425.5 512V515M425.5 517V523M425.5 524V528M426.5 425V448M426.5 450V470M426.5 472V489M426.5 491V504M426.5 505V515M426.5 517V528M427.5 425V448M427.5 450V526M427.5 527V536M428.5 420V541M429.5 415V513M429.5 514V520M429.5 522V523M429.5 524V539M429.5 541V545M430.5 415V418M430.5 421V456M430.5 457V504M430.5 505V520M430.5 522V540M430.5 541V545M431.5 415V418M431.5 421V453M431.5 454V504M431.5 505V513M431.5 515V522M431.5 523V534M431.5 535V538M431.5 541V545M432.5 428V453M432.5 454V466M432.5 467V504M432.5 505V513M432.5 515V524M432.5 526V534M432.5 535V538M432.5 540V542M432.5 543V547M433.5 429V466M433.5 467V511M433.5 512V513M433.5 515V523M433.5 526V534M433.5 535V538M433.5 541V543M433.5 545V547M434.5 429V456M434.5 461V466M434.5 467V501M434.5 503V508M434.5 510V511M434.5 512V523M434.5 524V540M434.5 541V543M434.5 545V547M435.5 423V427M435.5 428V501M435.5 503V508M435.5 510V511M435.5 512V523M435.5 524V540M435.5 541V549M435.5 550V555M435.5 557V560M435.5 561V581M436.5 423V427M436.5 428V501M436.5 503V549M436.5 550V555M436.5 557V581M437.5 423V427M437.5 428V549M437.5 550V554M437.5 557V561M437.5 564V569M438.5 444V561M438.5 564V569M439.5 427V431M439.5 433V437M439.5 439V472M439.5 477V535M439.5 537V554M439.5 560V561M439.5 564V569M440.5 427V430M440.5 433V437M440.5 439V472M440.5 475V535M440.5 537V555M440.5 557V561M440.5 563V591M440.5 598V606M441.5 427V431M441.5 433V437M441.5 439V469M441.5 471V535M441.5 537V582M441.5 585V587M441.5 589V606M442.5 432V469M442.5 471V567M442.5 568V582M442.5 585V586M442.5 589V606M443.5 432V563M443.5 565V586M443.5 587V594M444.5 432V563M444.5 565V573M444.5 575V579M444.5 581V586M444.5 587V594M445.5 457V491M445.5 493V565M445.5 567V573M445.5 575V579M445.5 581V587M445.5 589V594M446.5 457V491M446.5 493V572M446.5 573V581M446.5 583V598M446.5 600V603M447.5 457V491M447.5 493V590M447.5 601V603M448.5 459V478M448.5 479V501M448.5 503V590M448.5 596V598M448.5 601V610M449.5 444V478M449.5 479V598M449.5 600V604M449.5 605V606M449.5 607V610M450.5 444V480M450.5 481V598M450.5 600V604M450.5 605V606M450.5 607V615M451.5 444V480M451.5 481V581M451.5 582V596M451.5 599V604M451.5 605V606M451.5 607V608M451.5 611V615M452.5 467V480M452.5 481V581M452.5 582V605M452.5 607V622M452.5 628V633M452.5 634V635M452.5 637V640M453.5 473V496M453.5 500V511M453.5 513V581M453.5 582V605M453.5 607V622M453.5 623V626M453.5 631V635M453.5 637V640M454.5 473V495M454.5 500V502M454.5 504V509M454.5 510V511M454.5 513V599M454.5 606V610M454.5 612V622M454.5 623V626M454.5 631V635M455.5 473V487M455.5 488V495M455.5 497V498M455.5 500V502M455.5 504V512M455.5 513V628M455.5 631V707M455.5 708V716M456.5 488V499M456.5 505V512M456.5 513V531M456.5 532V707M456.5 708V716M457.5 488V517M457.5 519V521M457.5 522V716M458.5 488V498M458.5 500V506M458.5 513V517M458.5 519V521M458.5 522V523M458.5 524V737M459.5 590V593M459.5 594V595M459.5 596V737M460.5 590V593M460.5 596V622M460.5 623V737M461.5 590V594M461.5 596V597M461.5 599V600M461.5 601V617M461.5 618V629M461.5 630V795M462.5 619V629M462.5 631V795M463.5 619V623M463.5 626V629M463.5 631V633M463.5 634V638M463.5 641V795M464.5 617V621M464.5 625V633M464.5 634V640M464.5 641V795M465.5 617V623M465.5 625V647M465.5 649V795M466.5 617V623M466.5 625V630M466.5 631V813M467.5 666V813M468.5 688V853M469.5 688V853M470.5 688V897M471.5 748V897M472.5 748V897M473.5 748V901M474.5 774V901M475.5 774V901M476.5 781V918M477.5 781V918M478.5 788V918M479.5 788V937M480.5 788V931M480.5 932V937M481.5 813V931M481.5 932V948M482.5 813V931M482.5 932V948M483.5 813V965M484.5 838V965M485.5 838V867M485.5 868V964M486.5 837V867M486.5 868V964M487.5 837V867M487.5 868V987M488.5 832V987M489.5 832V982M490.5 822V982M491.5 822V999M492.5 798V999M493.5 798V999M494.5 776V952M495.5 776V952M496.5 776V952M497.5 786V952M498.5 803V952M499.5 803V952M500.5 804V956M501.5 804V963M502.5 804V963M503.5 788V963M504.5 788V954M505.5 788V955M506.5 775V955M507.5 775V956M508.5 763V956M509.5 763V949M510.5 763V949M511.5 785V926M512.5 809V926M513.5 809V926M514.5 809V939M515.5 824V939M516.5 824V960M517.5 824V960M518.5 811V960M519.5 811V941M520.5 790V949M521.5 776V949M522.5 776V944M523.5 776V944M524.5 789V944M525.5 813V965M526.5 813V965M527.5 813V965M528.5 859V954M529.5 859V954M530.5 859V986M531.5 878V986M532.5 878V1025M533.5 897V1025M534.5 897V1025M535.5 892V1014M536.5 892V1014M537.5 892V1006M538.5 900V1006M539.5 900V1003M540.5 900V1003M541.5 894V1003M542.5 894V999M543.5 864V999M544.5 864V999M545.5 864V991M546.5 879V991M547.5 880V997M548.5 880V997M549.5 878V1000M550.5 878V1000M551.5 882V1000M552.5 882V1007M553.5 888V1007M554.5 888V1005M555.5 885V1016M556.5 885V1016M557.5 885V1016M558.5 878V1012M559.5 878V1002M560.5 878V1002M561.5 873V1002M562.5 873V953M562.5 954V1000M563.5 873V953M563.5 954V1000M564.5 863V953M564.5 954V1000M565.5 863V992M566.5 842V992M567.5 842V985M568.5 842V985M569.5 845V983M570.5 845V971M570.5 973V983M571.5 832V983M572.5 832V979M573.5 832V979M574.5 854V957M574.5 959V979M575.5 854V957M575.5 959V979M576.5 854V957M576.5 959V977M577.5 845V977M578.5 845V981M579.5 843V981M580.5 843V981M581.5 851V979M582.5 851V971M582.5 972V996M583.5 851V971M583.5 972V996M584.5 844V971M584.5 972V996M585.5 844V963M586.5 831V959M587.5 831V921M587.5 923V962M588.5 831V921M588.5 923V962M589.5 829V940M590.5 829V940M591.5 829V940M592.5 822V952M593.5 822V854M593.5 857V952M594.5 818V935M595.5 814V935M596.5 814V955M597.5 814V955M598.5 830V959M599.5 831V959M600.5 831V838M600.5 839V959M601.5 831V959M602.5 832V963M602.5 965V979M603.5 832V979M604.5 832V979M605.5 842V976M606.5 842V976M607.5 842V976M608.5 837V958M609.5 837V859M609.5 862V958M610.5 837V958M611.5 835V958M612.5 835V958M613.5 828V957M614.5 828V945M614.5 946V957M615.5 828V945M615.5 946V953M616.5 818V953M617.5 818V953M618.5 818V954M619.5 806V954M620.5 801V954M621.5 801V950M621.5 952V960M622.5 801V960M623.5 814V940M623.5 941V966M624.5 821V940M624.5 941V966M625.5 821V940M625.5 941V973M626.5 823V973M627.5 823V982M628.5 829V982M629.5 829V944M629.5 945V982M630.5 829V858M630.5 860V944M630.5 945V971M631.5 832V944M631.5 945V955M632.5 832V860M632.5 862V955M633.5 832V860M633.5 862V955M634.5 813V860M634.5 862V967M635.5 813V825M635.5 826V967M636.5 820V825M636.5 826V949M637.5 820V949M638.5 820V949M639.5 811V829M639.5 830V940M640.5 811V829M640.5 830V940M641.5 808V940M642.5 808V938M643.5 808V938M644.5 799V938M645.5 799V951M646.5 799V951M647.5 813V939M648.5 813V933M648.5 935V939M649.5 809V933M649.5 935V950M650.5 809V933M650.5 935V950M651.5 829V951M652.5 829V951M653.5 831V951M654.5 831V970M655.5 852V883M655.5 885V970M656.5 852V883M656.5 885V970M657.5 852V883M657.5 885V968M658.5 858V968M659.5 858V873M659.5 875V968M660.5 853V873M660.5 875V876M660.5 877V987M661.5 853V876M661.5 877V987M662.5 873V876M662.5 877V993M663.5 873V993M664.5 873V1009M665.5 881V1009M666.5 881V1022M667.5 873V1022M668.5 866V1022M669.5 866V1037M670.5 866V1037M671.5 929V1039M672.5 929V1039M673.5 939V1039M674.5 939V1071M675.5 939V1071M676.5 928V1071M677.5 928V1063M678.5 893V1063M679.5 893V1043M680.5 876V1043M681.5 876V1027M682.5 876V1027M683.5 876V1027M684.5 869V980M685.5 869V980M686.5 864V982M687.5 864V982M688.5 854V973M689.5 854V973M690.5 843V987M691.5 843V987M692.5 842V987M693.5 842V976M694.5 842V978M695.5 831V978M696.5 831V975M697.5 837V975M698.5 837V975M699.5 837V968M700.5 831V968M701.5 831V964M702.5 831V964M703.5 827V964M704.5 827V964M705.5 827V964M706.5 810V964M707.5 810V813M707.5 814V959M708.5 810V813M708.5 814V971M709.5 814V820M709.5 826V971M710.5 814V822M710.5 824V971M711.5 814V822M711.5 824V950M712.5 803V807M712.5 812V815M712.5 816V910M712.5 911V950M713.5 803V806M713.5 808V812M713.5 820V950M714.5 813V960M715.5 796V812M715.5 814V960M716.5 796V801M716.5 803V1018M717.5 796V1018M718.5 820V1018M719.5 820V825M719.5 828V838M719.5 839V840M719.5 842V861M719.5 868V1014M720.5 833V838M720.5 839V841M720.5 842V854M720.5 856V863M720.5 866V880M720.5 881V1014M721.5 833V836M721.5 838V843M721.5 850V865M721.5 866V872M721.5 874V880M721.5 881V1016M722.5 835V856M722.5 857V872M722.5 874V880M722.5 881V1026M723.5 835V839M723.5 842V872M723.5 874V1026M724.5 835V1026M725.5 860V1021M726.5 844V877M726.5 879V1005M727.5 844V851M727.5 853V868M727.5 870V877M727.5 879V1005M728.5 844V851M728.5 854V868M728.5 870V1000M729.5 875V880M729.5 881V888M729.5 890V1000M730.5 875V880M730.5 881V899M730.5 900V901M730.5 902V914M730.5 921V993M731.5 875V880M731.5 882V886M731.5 887V892M731.5 897V899M731.5 900V901M731.5 909V911M731.5 913V916M731.5 917V993M732.5 895V899M732.5 900V910M732.5 913V914M732.5 917V993M733.5 895V909M733.5 911V914M733.5 917V922M733.5 924V998M734.5 895V902M734.5 905V912M734.5 913V914M734.5 916V922M734.5 925V926M734.5 927V998M735.5 902V907M735.5 909V912M735.5 913V924M735.5 925V926M735.5 927V998M736.5 902V912M736.5 913V924M736.5 925V927M736.5 928V1022M737.5 904V908M737.5 909V917M737.5 918V923M737.5 924V1022M738.5 904V915M738.5 916V919M738.5 921V923M738.5 924V1022M739.5 915V923M739.5 924V1028M740.5 915V919M740.5 921V1028M741.5 906V1071M742.5 906V1071M743.5 906V912M743.5 914V915M743.5 921V1071M744.5 899V911M744.5 913V923M744.5 929V1052M745.5 899V902M745.5 903V911M745.5 913V917M745.5 919V929M745.5 931V1052M746.5 899V902M746.5 903V911M746.5 913V1054M747.5 889V901M747.5 903V1054M748.5 889V901M748.5 903V904M748.5 905V1054M749.5 893V905M749.5 910V1053M750.5 893V896M750.5 898V919M750.5 921V1053M751.5 893V896M751.5 899V919M751.5 921V1053M752.5 855V858M752.5 859V896M752.5 898V1001M752.5 1002V1045M753.5 855V864M753.5 866V868M753.5 869V1001M753.5 1002V1045M754.5 855V858M754.5 866V868M754.5 869V901M754.5 902V1001M754.5 1002V1032M755.5 871V879M755.5 881V886M755.5 893V901M755.5 902V1032M756.5 871V879M756.5 881V913M756.5 915V1032M757.5 871V879M757.5 882V884M757.5 886V1017M758.5 861V864M758.5 870V884M758.5 886V905M758.5 907V1017M759.5 861V864M759.5 867V882M759.5 888V896M759.5 901V905M759.5 907V908M759.5 910V995M760.5 849V853M760.5 855V864M760.5 867V868M760.5 869V877M760.5 883V905M760.5 907V908M760.5 910V979M760.5 985V995M761.5 849V852M761.5 855V857M761.5 858V868M761.5 869V1008M762.5 849V852M762.5 855V857M762.5 858V863M762.5 865V868M762.5 869V876M762.5 878V1008M763.5 825V829M763.5 831V833M763.5 835V836M763.5 838V852M763.5 855V857M763.5 859V863M763.5 865V876M763.5 878V1008M764.5 825V829M764.5 831V833M764.5 835V845M764.5 847V853M764.5 854V863M764.5 865V876M764.5 878V948M764.5 953V966M765.5 826V829M765.5 831V833M765.5 834V845M765.5 847V855M765.5 857V867M765.5 869V920M765.5 921V932M765.5 933V948M765.5 950V966M766.5 826V829M766.5 831V833M766.5 834V840M766.5 841V854M766.5 857V920M766.5 921V932M766.5 933V944M766.5 946V966M767.5 822V829M767.5 831V840M767.5 841V855M767.5 857V920M767.5 921V932M767.5 933V944M767.5 946V979M768.5 822V833M768.5 838V841M768.5 846V848M768.5 850V943M768.5 948V979M769.5 801V807M769.5 809V814M769.5 815V833M769.5 834V848M769.5 850V910M769.5 912V925M769.5 927V942M770.5 801V807M770.5 809V834M770.5 836V910M770.5 912V922M770.5 923V929M770.5 935V936M770.5 938V942M771.5 804V809M771.5 816V823M771.5 825V834M771.5 836V930M771.5 935V936M771.5 938V943M772.5 804V807M772.5 814V834M772.5 836V839M772.5 840V909M772.5 912V920M772.5 921V930M772.5 932V937M772.5 939V943M773.5 804V809M773.5 811V812M773.5 814V839M773.5 840V892M773.5 893V901M773.5 902V905M773.5 907V920M773.5 921V925M774.5 786V798M774.5 799V805M774.5 807V809M774.5 811V812M774.5 814V888M774.5 893V901M774.5 902V905M774.5 907V925M775.5 786V791M775.5 792V798M775.5 799V821M775.5 823V889M775.5 890V892M775.5 893V901M775.5 902V904M775.5 909V918M775.5 922V925M776.5 767V791M776.5 792V798M776.5 802V811M776.5 816V821M776.5 823V889M776.5 890V896M776.5 898V913M776.5 915V918M776.5 920V924M776.5 926V928M777.5 767V791M777.5 792V821M777.5 823V881M777.5 883V913M777.5 915V921M777.5 926V928M778.5 767V790M778.5 792V917M778.5 918V924M778.5 926V928M779.5 779V784M779.5 785V789M779.5 790V817M779.5 819V891M779.5 893V922M779.5 926V930M779.5 937V938M780.5 779V784M780.5 785V789M780.5 790V792M780.5 794V891M780.5 893V909M780.5 911V915M780.5 916V926M780.5 928V932M780.5 936V938M781.5 782V789M781.5 790V793M781.5 794V807M781.5 809V909M781.5 911V932M781.5 936V938M782.5 782V793M782.5 795V802M782.5 803V807M782.5 809V880M782.5 881V918M782.5 920V925M783.5 787V793M783.5 795V797M783.5 799V802M783.5 803V813M783.5 814V824M783.5 830V895M783.5 897V905M783.5 907V912M783.5 913V916M784.5 787V792M784.5 795V797M784.5 799V802M784.5 803V807M784.5 809V817M784.5 822V824M784.5 825V895M784.5 897V905M784.5 907V912M784.5 913V916M784.5 920V922M784.5 924V926M785.5 787V792M785.5 794V797M785.5 798V807M785.5 809V820M785.5 821V824M785.5 825V911M786.5 778V786M786.5 788V792M786.5 794V807M786.5 809V876M786.5 877V880M786.5 882V910M786.5 912V915M787.5 778V786M787.5 788V790M787.5 791V792M787.5 793V807M787.5 808V824M787.5 825V876M787.5 877V898M787.5 900V907M788.5 778V785M788.5 788V790M788.5 793V807M788.5 808V876M788.5 877V884M788.5 885V898M788.5 900V907M789.5 778V784M789.5 786V792M789.5 795V807M789.5 808V872M789.5 876V882M789.5 884V897M789.5 898V899M789.5 901V904M790.5 778V858M790.5 860V864M790.5 866V880M790.5 884V887M790.5 890V897M790.5 898V899M790.5 901V904M791.5 774V777M791.5 781V788M791.5 791V796M791.5 798V799M791.5 800V815M791.5 817V820M791.5 822V858M791.5 860V864M791.5 866V880M791.5 881V887M791.5 889V899M792.5 774V779M792.5 780V785M792.5 787V788M792.5 791V796M792.5 797V799M792.5 800V803M792.5 804V815M792.5 817V820M792.5 822V861M792.5 862V864M792.5 866V876M792.5 877V879M792.5 880V888M792.5 889V890M792.5 891V893M792.5 895V900M793.5 774V777M793.5 778V779M793.5 780V785M793.5 787V788M793.5 790V794M793.5 796V799M793.5 800V820M793.5 822V855M793.5 856V861M793.5 862V871M793.5 873V879M793.5 880V888M793.5 889V893M793.5 895V900M794.5 758V775M794.5 778V785M794.5 787V788M794.5 790V855M794.5 856V861M794.5 862V892M794.5 895V910M794.5 914V920M795.5 758V775M795.5 777V792M795.5 793V892M795.5 895V910M795.5 914V916M795.5 918V920M796.5 758V762M796.5 763V767M796.5 769V775M796.5 777V792M796.5 793V800M796.5 802V892M796.5 894V910M796.5 914V921M796.5 923V928M796.5 929V945M797.5 781V808M797.5 810V921M797.5 923V933M797.5 940V945M798.5 781V808M798.5 810V917M798.5 920V921M798.5 923V947M799.5 789V795M799.5 797V978M800.5 789V795M800.5 797V933M800.5 936V978M801.5 797V978M802.5 797V800M802.5 802V827M802.5 829V840M802.5 841V921M802.5 923V930M802.5 931V937M802.5 939V962M803.5 799V800M803.5 802V806M803.5 809V810M803.5 812V827M803.5 829V838M803.5 839V840M803.5 841V929M803.5 933V962M804.5 799V810M804.5 814V826M804.5 829V838M804.5 839V840M804.5 841V930M804.5 931V963M805.5 799V810M805.5 811V819M805.5 821V834M805.5 836V938M805.5 944V963M806.5 820V823M806.5 824V828M806.5 834V837M806.5 839V855M806.5 856V940M806.5 942V963M807.5 820V823M807.5 826V837M807.5 839V843M807.5 844V855M807.5 856V977M808.5 826V833M808.5 836V837M808.5 839V855M808.5 856V931M808.5 933V977M809.5 826V840M809.5 841V859M809.5 861V868M809.5 869V931M809.5 933V996M810.5 827V839M810.5 841V868M810.5 869V996M811.5 827V840M811.5 841V868M811.5 869V996M812.5 827V833M812.5 835V840M812.5 841V976M813.5 844V862M813.5 864V875M813.5 882V953M813.5 955V987M814.5 844V850M814.5 854V861M814.5 862V889M814.5 890V953M814.5 955V957M814.5 958V983M814.5 985V987M815.5 844V853M815.5 855V861M815.5 864V954M815.5 959V982M816.5 852V853M816.5 860V861M816.5 862V868M816.5 871V957M816.5 958V982M817.5 852V856M817.5 857V858M817.5 860V898M817.5 899V928M817.5 929V949M817.5 954V973M818.5 853V858M818.5 859V898M818.5 899V937M818.5 939V946M818.5 947V953M818.5 954V973M819.5 853V874M819.5 876V890M819.5 891V937M819.5 939V946M819.5 947V949M819.5 950V953M819.5 954V960M819.5 962V973M820.5 855V871M820.5 872V874M820.5 876V890M820.5 891V937M820.5 939V946M820.5 947V949M820.5 950V960M820.5 968V975M821.5 855V871M821.5 872V875M821.5 877V890M821.5 891V943M821.5 945V949M821.5 950V960M821.5 962V979M822.5 855V885M822.5 887V946M822.5 952V960M822.5 963V979M823.5 870V885M823.5 887V934M823.5 941V948M823.5 950V951M823.5 953V960M823.5 963V977M824.5 870V874M824.5 876V948M824.5 950V951M824.5 953V960M824.5 962V977M825.5 876V880M825.5 882V894M825.5 895V899M825.5 900V906M825.5 908V918M825.5 920V951M825.5 953V981M826.5 876V877M826.5 878V883M826.5 885V894M826.5 895V899M826.5 901V906M826.5 908V918M826.5 920V959M826.5 960V981M827.5 874V882M827.5 885V889M827.5 890V894M827.5 895V899M827.5 901V906M827.5 908V959M827.5 960V1001M828.5 876V879M828.5 886V890M828.5 891V899M828.5 901V1001M829.5 876V881M829.5 883V890M829.5 891V906M829.5 908V914M829.5 915V1001M830.5 903V906M830.5 908V914M830.5 915V919M830.5 920V922M830.5 923V1023M831.5 903V908M831.5 910V911M831.5 913V922M831.5 923V1023M832.5 906V908M832.5 910V911M832.5 913V921M832.5 923V925M832.5 926V931M832.5 933V1035M833.5 906V908M833.5 910V911M833.5 913V931M833.5 933V945M833.5 947V1037M834.5 906V909M834.5 910V924M834.5 925V931M834.5 933V945M834.5 947V1037M835.5 905V909M835.5 910V912M835.5 914V924M835.5 925V927M835.5 928V942M835.5 944V945M835.5 947V1037M836.5 905V909M836.5 910V912M836.5 914V942M836.5 944V1028M837.5 905V912M837.5 914V1028M838.5 882V888M838.5 892V896M838.5 897V1028M839.5 879V889M839.5 891V896M839.5 897V918M839.5 920V1028M840.5 879V889M840.5 891V897M840.5 900V918M840.5 920V1037M841.5 879V898M841.5 900V1037M842.5 886V896M842.5 897V1037M843.5 886V902M843.5 909V923M843.5 925V984M843.5 986V1018M844.5 885V896M844.5 897V904M844.5 905V923M844.5 925V984M844.5 986V1032M845.5 885V892M845.5 895V923M845.5 925V984M845.5 986V1032M846.5 886V892M846.5 894V904M846.5 905V923M846.5 925V1032M847.5 886V904M847.5 905V910M847.5 912V918M847.5 920V992M848.5 878V882M848.5 885V904M848.5 905V910M848.5 912V918M848.5 920V922M848.5 924V980M848.5 982V992M849.5 878V882M849.5 885V891M849.5 893V898M849.5 903V910M849.5 912V922M849.5 924V980M849.5 982V992M850.5 878V881M850.5 883V891M850.5 893V899M850.5 900V922M850.5 924V989M851.5 878V899M851.5 900V989M852.5 878V909M852.5 911V993M853.5 865V897M853.5 903V912M853.5 913V976M853.5 977V981M853.5 983V993M854.5 865V886M854.5 888V889M854.5 890V970M855.5 863V867M855.5 868V870M855.5 871V889M855.5 890V926M855.5 928V970M856.5 863V870M856.5 871V889M856.5 891V895M856.5 896V926M856.5 928V934M856.5 938V952M856.5 954V970M857.5 863V868M857.5 870V882M857.5 886V895M857.5 896V899M857.5 901V912M857.5 913V926M857.5 928V929M857.5 931V958M858.5 848V861M858.5 862V880M858.5 881V899M858.5 901V912M858.5 917V934M858.5 936V958M859.5 848V861M859.5 862V912M859.5 913V920M859.5 922V923M859.5 925V934M859.5 936V958M860.5 848V866M860.5 869V919M860.5 922V923M860.5 925V932M860.5 936V966M861.5 835V919M861.5 921V966M862.5 835V919M862.5 921V956M863.5 837V862M863.5 863V873M863.5 874V875M863.5 876V908M863.5 909V934M863.5 935V956M864.5 837V846M864.5 848V870M864.5 872V873M864.5 874V875M864.5 876V908M864.5 909V910M864.5 912V934M864.5 935V956M865.5 837V845M865.5 848V857M865.5 858V870M865.5 872V875M865.5 876V910M865.5 912V932M865.5 933V934M865.5 935V952M866.5 834V845M866.5 847V857M866.5 858V870M866.5 872V932M866.5 933V952M867.5 834V838M867.5 840V845M867.5 847V850M867.5 852V861M867.5 862V926M867.5 927V932M867.5 933V952M868.5 834V839M868.5 840V850M868.5 852V873M868.5 874V913M868.5 916V926M868.5 927V928M868.5 930V952M869.5 820V826M869.5 828V832M869.5 834V843M869.5 845V906M869.5 907V926M869.5 927V928M869.5 930V933M869.5 934V941M869.5 944V948M869.5 949V952M870.5 820V836M870.5 845V864M870.5 867V906M870.5 907V936M870.5 937V942M870.5 944V948M870.5 949V961M871.5 820V837M871.5 838V843M871.5 845V854M871.5 859V864M871.5 865V906M871.5 907V942M871.5 944V948M871.5 949V961M872.5 842V843M872.5 845V847M872.5 848V854M872.5 856V864M872.5 865V872M872.5 874V945M872.5 946V961M873.5 842V847M873.5 848V854M873.5 856V864M873.5 870V872M873.5 874V884M873.5 885V945M873.5 946V984M874.5 841V844M874.5 848V853M874.5 856V862M874.5 863V865M874.5 866V873M874.5 874V944M874.5 946V984M875.5 841V862M875.5 863V872M875.5 874V944M875.5 946V980M876.5 841V867M876.5 868V872M876.5 874V980M877.5 871V872M877.5 873V918M877.5 920V1004M878.5 871V874M878.5 876V909M878.5 911V918M878.5 920V1004M879.5 871V874M879.5 876V891M879.5 893V1004M880.5 899V903M880.5 904V913M880.5 914V927M880.5 935V945M880.5 947V992M881.5 899V903M881.5 908V913M881.5 914V916M881.5 923V945M881.5 949V992M882.5 899V913M882.5 914V932M882.5 934V941M882.5 942V945M882.5 947V1008M883.5 892V895M883.5 896V899M883.5 901V916M883.5 918V932M883.5 934V1008M883.5 1009V1036M884.5 892V895M884.5 898V899M884.5 901V1008M884.5 1009V1036M885.5 892V896M885.5 904V908M885.5 910V1015M885.5 1017V1036M886.5 910V915M886.5 916V1015M887.5 910V915M887.5 916V930M887.5 932V1025M888.5 896V915M888.5 916V1025M889.5 896V910M889.5 916V922M889.5 929V1025M890.5 891V924M890.5 926V929M890.5 930V1035M891.5 891V924M891.5 926V1035M892.5 876V879M892.5 882V906M892.5 907V1035M893.5 876V906M893.5 907V1036M894.5 876V883M894.5 885V906M894.5 907V1036M895.5 881V883M895.5 885V889M895.5 890V907M895.5 909V1036M896.5 881V883M896.5 888V895M896.5 899V907M896.5 909V926M896.5 933V1023M897.5 881V886M897.5 887V900M897.5 905V998M897.5 999V1023M898.5 896V903M898.5 905V918M898.5 920V998M898.5 999V1021M899.5 896V902M899.5 905V920M899.5 922V925M899.5 927V941M899.5 943V1021M900.5 891V901M900.5 903V913M900.5 914V920M900.5 922V925M900.5 927V1021M901.5 891V901M901.5 903V913M901.5 914V920M901.5 922V929M901.5 930V1011M902.5 891V901M902.5 903V913M902.5 914V926M902.5 927V929M902.5 930V1011M903.5 886V906M903.5 908V926M903.5 927V929M903.5 930V1011M904.5 886V895M904.5 897V898M904.5 904V906M904.5 908V910M904.5 915V1015M905.5 883V890M905.5 891V895M905.5 897V902M905.5 903V925M905.5 927V930M905.5 932V1015M906.5 883V886M906.5 887V890M906.5 891V895M906.5 897V930M906.5 932V1015M907.5 881V885M907.5 887V890M907.5 891V892M907.5 894V895M907.5 897V930M907.5 932V1026M908.5 881V886M908.5 887V892M908.5 894V910M908.5 912V923M908.5 925V1026M909.5 874V877M909.5 883V889M909.5 891V904M909.5 912V919M909.5 921V923M909.5 925V1026M910.5 874V889M910.5 891V894M910.5 898V900M910.5 902V919M910.5 921V1012M911.5 874V889M911.5 891V900M911.5 902V906M911.5 907V1012M912.5 873V905M912.5 907V962M912.5 963V1009M913.5 861V871M913.5 877V890M913.5 894V898M913.5 901V905M913.5 908V962M913.5 963V1009M914.5 861V864M914.5 866V891M914.5 893V903M914.5 905V963M914.5 964V1009M915.5 861V864M915.5 866V891M915.5 893V903M915.5 905V906M915.5 907V958M915.5 960V963M915.5 964V999M916.5 869V875M916.5 877V891M916.5 893V902M916.5 905V906M916.5 907V957M916.5 961V999M917.5 869V872M917.5 873V875M917.5 877V902M917.5 904V962M917.5 963V999M918.5 875V880M918.5 881V891M918.5 892V902M918.5 905V906M918.5 908V957M918.5 963V1005M919.5 875V880M919.5 881V891M919.5 892V894M919.5 898V904M919.5 905V1013M920.5 876V879M920.5 880V885M920.5 887V891M920.5 892V904M920.5 905V1013M921.5 876V879M921.5 881V885M921.5 887V906M921.5 908V912M921.5 914V972M921.5 974V1013M922.5 876V879M922.5 881V885M922.5 887V906M922.5 908V912M922.5 914V972M922.5 974V999M923.5 884V893M923.5 895V904M923.5 909V912M923.5 914V923M923.5 930V965M923.5 967V972M923.5 974V999M924.5 884V887M924.5 889V893M924.5 895V904M924.5 906V907M924.5 909V919M924.5 920V965M924.5 967V1009M925.5 884V887M925.5 890V893M925.5 894V900M925.5 902V907M925.5 909V919M925.5 922V924M925.5 931V965M925.5 967V1009M926.5 892V900M926.5 902V910M926.5 912V919M926.5 922V1009M927.5 892V910M927.5 912V920M927.5 922V1010M928.5 894V899M928.5 900V909M928.5 912V916M928.5 920V1010M929.5 894V898M929.5 900V909M929.5 911V912M929.5 914V925M929.5 926V1036M930.5 894V897M930.5 900V906M930.5 907V909M930.5 911V917M930.5 919V1023M930.5 1025V1036M931.5 888V897M931.5 900V906M931.5 907V916M931.5 919V926M931.5 927V1023M931.5 1025V1036M932.5 888V900M932.5 902V915M932.5 917V926M932.5 927V930M932.5 931V1023M933.5 888V898M933.5 904V915M933.5 917V926M933.5 927V930M933.5 931V1031M934.5 891V901M934.5 903V930M934.5 931V1031M935.5 891V900M935.5 906V908M935.5 913V1022M936.5 879V891M936.5 892V904M936.5 906V908M936.5 910V1022M937.5 879V885M937.5 886V887M937.5 889V891M937.5 892V906M937.5 912V924M937.5 926V1023M938.5 879V885M938.5 886V887M938.5 889V891M938.5 892V924M938.5 926V992M938.5 993V1023M939.5 882V885M939.5 886V891M939.5 892V899M939.5 902V920M939.5 921V922M939.5 923V924M939.5 926V992M939.5 993V1023M939.5 1024V1029M940.5 910V922M940.5 924V1023M940.5 1024V1029M941.5 910V922M941.5 924V945M941.5 947V1023M941.5 1025V1029M942.5 934V939M942.5 941V945M942.5 947V1037M943.5 934V939M943.5 947V1037M944.5 948V951M944.5 955V1037M945.5 948V951M945.5 952V1042M946.5 958V1042M947.5 958V976M947.5 978V1042M948.5 971V1071M949.5 971V1071M950.5 966V1089M951.5 966V1089M952.5 966V1089M953.5 965V1060M954.5 965V1060M955.5 959V1040M956.5 959V1040M957.5 939V942M957.5 945V1040M958.5 939V942M958.5 943V1035M959.5 933V939M959.5 940V942M959.5 948V952M959.5 953V1035M960.5 925V930M960.5 932V939M960.5 940V946M960.5 947V950M960.5 953V1035M961.5 925V930M961.5 931V933M961.5 935V950M961.5 952V1036M962.5 925V928M962.5 931V933M962.5 935V950M962.5 952V1036M963.5 936V942M963.5 953V1043M964.5 936V949M964.5 955V1043M965.5 932V952M965.5 953V1051M966.5 932V938M966.5 939V948M966.5 950V1051M967.5 945V948M967.5 950V1051M968.5 945V1049M969.5 945V1049M970.5 949V1045M971.5 949V952M971.5 955V1045M972.5 949V960M972.5 961V1050M973.5 961V979M973.5 980V1050M974.5 961V966M974.5 967V979M974.5 980V1080M975.5 961V966M975.5 967V979M975.5 980V1080M976.5 960V963M976.5 966V1069M976.5 1070V1079M977.5 960V963M977.5 965V1069M977.5 1070V1091M978.5 977V981M978.5 983V1091M979.5 977V981M979.5 983V1091M980.5 977V1076M981.5 983V1081M982.5 968V972M982.5 973V979M982.5 980V1081M983.5 968V971M983.5 974V979M983.5 980V1081M984.5 968V972M984.5 974V1079M985.5 993V1079M986.5 990V1079M987.5 990V1076M988.5 990V1076M989.5 987V1026M989.5 1027V1071M990.5 987V1071M991.5 973V1071M992.5 973V1075M993.5 979V1075M994.5 979V1064M995.5 979V1064M996.5 965V1072M997.5 965V1072M998.5 965V1063M999.5 955V1063M1000.5 955V958M1000.5 959V1056M1001.5 956V958M1001.5 960V1056M1002.5 950V958M1002.5 960V1062M1003.5 950V1062M1004.5 950V1073M1005.5 962V1056M1005.5 1057V1073M1006.5 962V1056M1006.5 1057V1072M1007.5 962V966M1007.5 967V1056M1007.5 1057V1072M1008.5 972V1072M1009.5 972V1072M1010.5 971V1000M1010.5 1002V1083M1011.5 971V1083M1012.5 973V1083M1013.5 973V1099M1014.5 984V1099M1015.5 984V1092M1016.5 989V1092M1017.5 989V1101M1018.5 992V1101M1019.5 992V1111M1020.5 992V1111M1021.5 978V1111M1022.5 978V981M1022.5 982V1121M1023.5 984V1079M1023.5 1080V1121M1024.5 984V1079M1024.5 1080V1121M1025.5 984V1079M1025.5 1080V1110M1026.5 971V1110M1027.5 971V1110M1028.5 971V980M1028.5 982V1095M1029.5 979V980M1029.5 982V1095M1030.5 983V1095M1031.5 983V1101M1032.5 983V1101M1033.5 982V1094M1034.5 982V1105M1035.5 988V1105M1036.5 988V1105M1037.5 990V1092M1038.5 990V1096M1039.5 993V1096M1040.5 993V1073M1040.5 1074V1091M1041.5 983V1073M1041.5 1074V1091M1042.5 983V1086M1043.5 983V1024M1043.5 1025V1086M1044.5 961V1081M1045.5 950V1050M1045.5 1051V1081M1046.5 950V1050M1046.5 1051V1089M1047.5 950V1050M1047.5 1051V1089M1048.5 960V1076M1049.5 960V1076M1050.5 958V1076M1051.5 958V1064M1052.5 946V949M1052.5 951V1064M1053.5 946V1067M1054.5 946V1067M1055.5 948V1059M1056.5 948V1059M1057.5 948V1062M1058.5 950V1062M1059.5 931V1062M1060.5 931V1070M1061.5 931V1070M1062.5 958V1093M1063.5 938V1093M1064.5 938V1093M1065.5 970V1075M1066.5 970V974M1066.5 976V1075M1067.5 968V974M1067.5 976V1075M1068.5 968V1084M1069.5 968V1084M1070.5 973V1084M1071.5 973V1075M1072.5 973V1075M1073.5 976V1075M1074.5 976V1077M1075.5 968V1069M1075.5 1071V1077M1076.5 968V1066M1077.5 970V1066M1078.5 970V1062M1079.5 956V1062M1080.5 956V1062M1081.5 956V1074M1082.5 967V1074M1083.5 967V1088M1084.5 967V1088M1085.5 966V1088M1086.5 966V1081M1087.5 966V1081M1088.5 971V1081M1089.5 971V1104M1090.5 974V1104M1091.5 961V1097M1092.5 961V1097M1093.5 961V1097M1094.5 969V1114M1095.5 969V1114M1096.5 969V1115M1097.5 969V973M1097.5 975V1072M1097.5 1073V1115M1098.5 969V973M1098.5 975V1072M1098.5 1073V1107M1099.5 990V1116M1100.5 990V1116M1101.5 990V1116M1102.5 1005V1108M1103.5 1005V1106M1104.5 1002V1106M1105.5 1002V1106M1106.5 1002V1119M1107.5 991V1119M1108.5 991V1119M1109.5 991V994M1109.5 996V1114M1110.5 993V994M1110.5 996V1114M1111.5 993V1117M1112.5 993V1130M1113.5 983V1130M1114.5 983V1130M1115.5 982V1115M1116.5 982V1115M1117.5 968V1117M1118.5 968V1117M1119.5 969V1108M1120.5 969V1108M1121.5 969V975M1121.5 976V1101M1122.5 968V975M1122.5 976V1101M1123.5 968V1103M1124.5 968V1096M1124.5 1098V1103M1125.5 957V962M1125.5 963V1072M1125.5 1076V1096M1125.5 1098V1103M1126.5 957V1087M1127.5 957V1087M1128.5 955V1087M1129.5 955V1088M1130.5 955V1088M1131.5 943V1094M1132.5 943V1094M1133.5 943V1083M1133.5 1085V1094M1134.5 965V1109M1135.5 965V1109M1136.5 965V1109M1137.5 981V1107M1138.5 981V1116M1139.5 972V993M1139.5 994V1116M1140.5 972V993M1140.5 994V1116M1141.5 980V993M1141.5 994V1115M1142.5 980V1115M1143.5 977V1105M1144.5 977V1105M1145.5 977V1102M1146.5 972V1102M1147.5 972V1093M1148.5 968V1093M1149.5 968V1093M1150.5 960V1091M1151.5 960V1091M1152.5 960V1089M1153.5 954V1089M1154.5 954V1089M1155.5 954V1087M1156.5 946V959M1156.5 961V1087M1157.5 946V950M1157.5 951V953M1157.5 956V959M1157.5 961V1075M1158.5 941V954M1158.5 956V1075M1159.5 941V944M1159.5 945V954M1159.5 956V1077M1160.5 947V953M1160.5 954V1077M1161.5 933V938M1161.5 939V953M1161.5 954V1068M1162.5 933V938M1162.5 939V948M1162.5 952V963M1162.5 965V1068M1163.5 933V938M1163.5 939V948M1163.5 950V953M1163.5 954V963M1163.5 965V1068M1164.5 946V950M1164.5 952V953M1164.5 957V963M1164.5 965V1078M1165.5 944V950M1165.5 952V953M1165.5 954V1078M1166.5 944V950M1166.5 952V981M1166.5 983V1080M1167.5 956V981M1167.5 983V1080M1168.5 956V1096M1169.5 956V1096M1170.5 956V1096M1171.5 956V1081M1172.5 965V1089M1173.5 965V1089M1174.5 958V1087M1175.5 958V1087M1176.5 958V1066M1177.5 947V1066M1178.5 947V1066M1179.5 947V1051M1180.5 938V1051M1181.5 938V1051M1182.5 901V1035M1183.5 901V906M1183.5 907V1035M1184.5 901V905M1184.5 907V912M1184.5 913V918M1184.5 920V1035M1185.5 908V912M1185.5 913V914M1185.5 915V917M1185.5 920V923M1185.5 926V1019M1186.5 908V912M1186.5 913V914M1186.5 915V917M1186.5 919V923M1186.5 924V976M1186.5 977V1019M1187.5 878V895M1187.5 897V902M1187.5 905V917M1187.5 919V922M1187.5 927V976M1187.5 977V1006M1188.5 878V895M1188.5 897V898M1188.5 899V917M1188.5 920V923M1188.5 924V1006M1189.5 878V894M1189.5 895V918M1189.5 919V1006M1190.5 881V894M1190.5 895V896M1190.5 897V918M1190.5 919V1013M1191.5 881V894M1191.5 895V896M1191.5 897V903M1191.5 904V993M1191.5 994V1013M1192.5 888V896M1192.5 897V919M1192.5 921V1013M1193.5 888V893M1193.5 897V903M1193.5 905V912M1193.5 913V924M1193.5 925V933M1193.5 939V1013M1194.5 888V893M1194.5 894V903M1194.5 905V912M1194.5 913V924M1194.5 925V1013M1195.5 889V912M1195.5 913V925M1195.5 927V971M1195.5 972V974M1195.5 976V1016M1196.5 889V920M1196.5 927V971M1196.5 972V974M1196.5 976V1016M1197.5 889V907M1197.5 916V918M1197.5 919V925M1197.5 927V1016M1198.5 899V904M1198.5 909V912M1198.5 913V917M1198.5 919V924M1198.5 926V927M1198.5 932V1030M1198.5 1032V1044M1199.5 899V907M1199.5 909V915M1199.5 916V917M1199.5 919V925M1199.5 926V928M1199.5 930V935M1199.5 936V1030M1199.5 1032V1042M1200.5 865V868M1200.5 875V890M1200.5 892V925M1200.5 926V928M1200.5 930V1018M1200.5 1019V1030M1200.5 1035V1042M1201.5 865V878M1201.5 880V885M1201.5 887V890M1201.5 892V897M1201.5 904V909M1201.5 910V928M1201.5 930V1018M1201.5 1019V1033M1201.5 1035V1042M1202.5 865V877M1202.5 884V885M1202.5 887V908M1202.5 910V985M1202.5 986V1024M1203.5 854V858M1203.5 860V878M1203.5 880V996M1203.5 998V1032M1204.5 854V857M1204.5 861V878M1204.5 879V889M1204.5 890V894M1204.5 896V996M1204.5 998V1032M1205.5 854V858M1205.5 860V865M1205.5 870V878M1205.5 879V885M1205.5 887V888M1205.5 889V894M1205.5 896V1025M1205.5 1026V1032M1206.5 871V874M1206.5 882V885M1206.5 887V888M1206.5 889V894M1206.5 896V984M1206.5 986V1009M1206.5 1010V1025M1206.5 1026V1027M1207.5 853V861M1207.5 863V900M1207.5 901V981M1207.5 986V1009M1207.5 1010V1018M1207.5 1020V1027M1208.5 853V863M1208.5 865V879M1208.5 883V886M1208.5 887V894M1208.5 896V900M1208.5 901V981M1208.5 986V989M1208.5 991V1018M1208.5 1020V1021M1209.5 853V886M1209.5 887V888M1209.5 890V894M1209.5 896V900M1209.5 901V977M1209.5 980V981M1209.5 983V989M1209.5 991V997M1209.5 1004V1005M1210.5 862V870M1210.5 871V886M1210.5 897V973M1210.5 976V997M1210.5 998V1005M1210.5 1007V1009M1211.5 862V887M1211.5 888V892M1211.5 894V906M1211.5 907V973M1211.5 976V996M1211.5 997V1005M1211.5 1007V1009M1212.5 853V996M1212.5 997V998M1212.5 1001V1009M1213.5 853V857M1213.5 859V872M1213.5 874V900M1213.5 902V968M1213.5 969V975M1213.5 979V994M1213.5 996V998M1213.5 1000V1009M1214.5 853V857M1214.5 859V870M1214.5 871V874M1214.5 877V890M1214.5 891V975M1214.5 977V986M1214.5 988V998M1214.5 1000V1014M1215.5 868V890M1215.5 891V909M1215.5 913V914M1215.5 916V975M1215.5 979V986M1215.5 988V1009M1215.5 1012V1014M1216.5 871V914M1216.5 916V977M1216.5 979V982M1216.5 984V994M1216.5 997V1009M1216.5 1012V1014M1217.5 871V914M1217.5 916V977M1217.5 979V982M1217.5 984V994M1217.5 997V1009M1217.5 1014V1024M1218.5 888V928M1218.5 930V982M1218.5 988V994M1218.5 997V1013M1218.5 1018V1024M1219.5 888V919M1219.5 920V997M1219.5 1001V1016M1219.5 1018V1024M1220.5 888V1002M1220.5 1004V1005M1220.5 1006V1009M1221.5 898V996M1221.5 998V1002M1221.5 1004V1005M1221.5 1007V1009M1222.5 898V965M1222.5 966V977M1222.5 978V1004M1223.5 898V965M1223.5 966V1005M1223.5 1006V1009M1223.5 1011V1014M1224.5 913V965M1224.5 966V975M1224.5 976V984M1224.5 985V1009M1224.5 1011V1014M1225.5 901V975M1225.5 976V984M1225.5 986V1009M1225.5 1012V1014M1226.5 901V915M1226.5 916V972M1226.5 974V984M1226.5 986V999M1226.5 1000V1004M1226.5 1006V1009M1227.5 901V972M1227.5 974V976M1227.5 977V978M1227.5 979V999M1227.5 1000V1004M1227.5 1006V1010M1228.5 910V973M1228.5 979V989M1228.5 990V1004M1228.5 1006V1013M1229.5 913V971M1229.5 976V1002M1229.5 1004V1013M1230.5 913V1000M1230.5 1001V1002M1230.5 1004V1006M1230.5 1010V1021M1231.5 913V1000M1231.5 1001V1002M1231.5 1004V1008M1231.5 1012V1015M1231.5 1018V1021M1232.5 902V980M1232.5 982V1000M1232.5 1001V1008M1232.5 1012V1013M1232.5 1018V1021M1233.5 902V995M1233.5 997V1006M1233.5 1010V1013M1233.5 1017V1025M1233.5 1026V1029M1234.5 902V995M1234.5 997V1008M1234.5 1010V1013M1234.5 1015V1016M1234.5 1021V1022M1234.5 1023V1025M1234.5 1026V1029M1235.5 913V999M1235.5 1001V1004M1235.5 1006V1008M1235.5 1010V1023M1235.5 1026V1029M1236.5 913V999M1236.5 1003V1006M1236.5 1009V1022M1236.5 1023V1042M1236.5 1044V1047M1237.5 913V1001M1237.5 1003V1004M1237.5 1009V1022M1237.5 1023V1040M1237.5 1045V1047M1238.5 913V1005M1238.5 1012V1024M1238.5 1026V1043M1238.5 1045V1047M1239.5 921V1024M1239.5 1026V1031M1239.5 1033V1043M1239.5 1044V1047M1240.5 921V943M1240.5 949V1007M1240.5 1009V1011M1240.5 1013V1026M1240.5 1033V1034M1240.5 1036V1037M1240.5 1039V1043M1240.5 1044V1047M1241.5 931V937M1241.5 943V976M1241.5 978V1002M1241.5 1009V1034M1241.5 1036V1043M1241.5 1044V1047M1242.5 931V951M1242.5 952V975M1242.5 978V1007M1242.5 1009V1032M1242.5 1034V1051M1243.5 931V951M1243.5 952V974M1243.5 976V1032M1243.5 1034V1051M1244.5 923V974M1244.5 976V1026M1244.5 1027V1029M1244.5 1030V1032M1244.5 1034V1051M1245.5 923V974M1245.5 976V1026M1245.5 1027V1029M1245.5 1030V1089M1245.5 1092V1096M1246.5 923V1026M1246.5 1027V1029M1246.5 1030V1058M1246.5 1060V1079M1246.5 1080V1082M1246.5 1084V1096M1247.5 912V1053M1247.5 1060V1083M1247.5 1084V1091M1248.5 912V1047M1249.5 912V1007M1249.5 1008V1016M1249.5 1018V1021M1249.5 1023V1029M1249.5 1030V1047M1250.5 881V1014M1250.5 1016V1021M1251.5 881V1011M1251.5 1016V1018M1251.5 1019V1021M1252.5 891V984M1252.5 985V1011M1253.5 891V969M1253.5 972V984M1253.5 985V990M1253.5 992V1003M1253.5 1009V1011M1254.5 853V979M1254.5 981V986M1255.5 853V986M1256.5 853V964M1256.5 966V971M1256.5 973V986M1257.5 871V971M1257.5 973V976M1257.5 980V986M1258.5 871V986M1258.5 987V993M1259.5 871V894M1259.5 896V958M1259.5 959V983M1259.5 987V989M1259.5 990V993M1260.5 877V902M1260.5 904V965M1260.5 966V984M1260.5 986V988M1260.5 990V993M1261.5 877V880M1261.5 886V902M1261.5 904V965M1261.5 966V984M1261.5 986V988M1261.5 989V1007M1262.5 893V897M1262.5 899V902M1262.5 904V975M1262.5 976V984M1262.5 986V1007M1263.5 893V897M1263.5 900V975M1263.5 976V981M1263.5 987V991M1263.5 992V1003M1263.5 1005V1007M1264.5 893V897M1264.5 900V970M1264.5 972V981M1264.5 982V986M1264.5 987V988M1264.5 990V991M1264.5 992V995M1265.5 897V967M1265.5 974V981M1265.5 982V986M1265.5 987V991M1265.5 993V995M1266.5 897V976M1266.5 981V983M1266.5 984V991M1266.5 993V995M1267.5 883V886M1267.5 888V966M1267.5 968V980M1267.5 982V985M1267.5 986V1005M1268.5 883V886M1268.5 888V966M1268.5 968V974M1268.5 975V977M1268.5 978V985M1268.5 986V1000M1268.5 1001V1005M1269.5 883V886M1269.5 888V974M1269.5 975V977M1269.5 978V985M1269.5 986V993M1269.5 994V998M1270.5 889V974M1270.5 975V982M1270.5 984V988M1270.5 990V993M1270.5 994V998M1271.5 889V982M1271.5 984V988M1272.5 889V979M1272.5 981V984M1272.5 985V1003M1273.5 901V1003M1274.5 901V956M1274.5 957V970M1274.5 972V988M1274.5 990V1003M1275.5 900V922M1275.5 923V956M1275.5 957V970M1275.5 972V988M1275.5 990V1001M1276.5 900V956M1276.5 957V971M1276.5 976V977M1277.5 900V973M1277.5 974V977M1278.5 896V973M1278.5 974V976M1278.5 977V980M1279.5 896V976M1279.5 977V980M1280.5 896V906M1280.5 908V962M1280.5 966V976M1280.5 977V994M1280.5 995V998M1281.5 863V906M1281.5 908V991M1281.5 993V998M1282.5 863V906M1282.5 908V990M1282.5 993V998M1283.5 863V990M1283.5 993V1027M1283.5 1029V1031M1284.5 880V1027M1284.5 1029V1044M1285.5 880V998M1285.5 1004V1027M1285.5 1029V1044M1286.5 894V1000M1286.5 1001V1011M1286.5 1013V1014M1286.5 1016V1040M1286.5 1041V1044M1287.5 894V1013M1287.5 1016V1034M1288.5 894V995M1288.5 997V1013M1288.5 1015V1023M1289.5 890V995M1289.5 997V1013M1289.5 1017V1021M1289.5 1023V1027M1290.5 890V994M1290.5 996V998M1290.5 999V1015M1290.5 1017V1021M1290.5 1025V1027M1291.5 890V989M1291.5 990V994M1291.5 996V998M1291.5 999V1004M1291.5 1005V1007M1291.5 1009V1015M1291.5 1017V1021M1292.5 909V989M1292.5 990V998M1292.5 999V1004M1292.5 1009V1021M1293.5 909V992M1293.5 993V1007M1293.5 1011V1027M1293.5 1028V1029M1293.5 1031V1033M1294.5 914V922M1294.5 923V992M1294.5 993V1029M1294.5 1031V1033M1295.5 914V922M1295.5 923V1018M1295.5 1019V1029M1295.5 1031V1033M1296.5 927V1058M1296.5 1059V1063M1296.5 1065V1067M1297.5 927V965M1297.5 972V1037M1297.5 1039V1058M1297.5 1059V1063M1297.5 1065V1067M1298.5 927V1037M1298.5 1039V1057M1299.5 941V971M1299.5 972V1016M1299.5 1017V1023M1299.5 1026V1046M1299.5 1048V1057M1299.5 1059V1061M1300.5 941V946M1300.5 948V969M1300.5 971V1016M1300.5 1017V1039M1300.5 1041V1046M1300.5 1048V1061M1301.5 930V946M1301.5 948V1016M1301.5 1017V1039M1301.5 1041V1047M1301.5 1050V1051M1301.5 1053V1061M1302.5 930V977M1302.5 978V1039M1302.5 1041V1051M1302.5 1053V1074M1303.5 938V972M1303.5 981V1045M1303.5 1047V1050M1303.5 1052V1070M1304.5 938V982M1304.5 988V1045M1304.5 1047V1050M1304.5 1052V1058M1304.5 1060V1064M1304.5 1065V1069M1304.5 1071V1074M1305.5 938V1018M1305.5 1019V1029M1305.5 1031V1043M1305.5 1047V1058M1306.5 928V967M1306.5 969V970M1306.5 972V975M1306.5 976V1018M1306.5 1019V1029M1306.5 1031V1040M1306.5 1041V1058M1307.5 928V967M1307.5 969V975M1307.5 976V1014M1307.5 1021V1029M1307.5 1031V1035M1307.5 1037V1040M1307.5 1041V1045M1307.5 1048V1054M1307.5 1056V1059M1308.5 931V967M1308.5 978V1035M1308.5 1037V1040M1308.5 1041V1046M1308.5 1048V1054M1308.5 1056V1063M1309.5 931V968M1309.5 970V1035M1309.5 1037V1044M1309.5 1046V1047M1309.5 1049V1051M1309.5 1053V1054M1309.5 1056V1063M1310.5 907V952M1310.5 953V968M1310.5 970V1063M1311.5 907V951M1311.5 954V1023M1311.5 1024V1026M1311.5 1027V1032M1311.5 1033V1043M1312.5 907V951M1312.5 953V954M1312.5 959V1012M1312.5 1014V1020M1312.5 1021V1023M1312.5 1024V1026M1312.5 1027V1037M1312.5 1038V1043M1313.5 888V1012M1313.5 1014V1022M1313.5 1023V1026M1313.5 1027V1043M1314.5 888V1012M1314.5 1014V1032M1314.5 1034V1040M1315.5 878V1030M1315.5 1034V1040M1316.5 878V1000M1316.5 1001V1040M1317.5 878V1000M1317.5 1001V1014M1317.5 1016V1026M1317.5 1028V1041M1318.5 889V935M1318.5 936V1000M1318.5 1001V1010M1318.5 1016V1026M1318.5 1028V1033M1318.5 1034V1037M1318.5 1038V1041M1319.5 889V1005M1319.5 1007V1019M1319.5 1020V1033M1319.5 1034V1051M1320.5 930V936M1320.5 938V950M1320.5 952V1005M1320.5 1007V1018M1320.5 1025V1031M1320.5 1033V1043M1320.5 1045V1051M1321.5 930V936M1321.5 938V1019M1321.5 1020V1025M1321.5 1026V1029M1321.5 1033V1043M1321.5 1045V1051M1322.5 937V940M1322.5 942V944M1322.5 946V950M1322.5 951V982M1322.5 983V1025M1322.5 1026V1030M1322.5 1031V1043M1322.5 1045V1059M1323.5 937V969M1323.5 970V1025M1323.5 1026V1030M1323.5 1031V1033M1323.5 1036V1059M1324.5 937V951M1324.5 953V969M1324.5 970V1033M1324.5 1036V1059M1325.5 924V951M1325.5 953V954M1325.5 956V969M1325.5 970V1008M1325.5 1011V1030M1325.5 1031V1033M1325.5 1035V1048M1326.5 924V954M1326.5 956V961M1326.5 963V1008M1326.5 1011V1030M1326.5 1031V1035M1327.5 916V919M1327.5 921V933M1327.5 935V945M1327.5 946V954M1327.5 956V961M1327.5 963V1002M1327.5 1003V1009M1327.5 1011V1029M1327.5 1031V1035M1328.5 916V933M1328.5 935V961M1328.5 963V1002M1328.5 1003V1020M1328.5 1027V1029M1328.5 1031V1035M1329.5 916V935M1329.5 939V988M1329.5 990V1002M1329.5 1003V1021M1329.5 1023V1024M1330.5 903V981M1330.5 982V988M1330.5 990V1021M1330.5 1023V1024M1331.5 903V930M1331.5 931V981M1331.5 982V988M1331.5 990V1007M1331.5 1008V1024M1332.5 903V930M1332.5 931V943M1332.5 944V981M1332.5 982V987M1332.5 988V1007M1332.5 1008V1019M1332.5 1022V1031M1333.5 915V957M1333.5 959V987M1333.5 988V1007M1333.5 1008V1031"/>
<path id="pink0" stroke="#ff0080" stroke-width="2" shape-rendering="crispEdges" d="M323 222.5h4M323 255.5h4M323 266.5h4M323 268.5h5M323 276.5h4M323 280.5h4M323 287.5h4M323 291.5h4M323 297.5h4"/>
<path id="green0" stroke="#00ff00" stroke-width="2" shape-rendering="crispEdges" d="M327 279.5h4M327 285.5h4"/>
</g>
<g id="labels">
<text x="292.5" y="1258.4" text-anchor="end" class="t">40</text>
<text x="292.5" y="1059.2" text-anchor="end" class="t">50</text>
<text x="292.5" y="860.1" text-anchor="end" class="t">60</text>
<text x="292.5" y="660.9" text-anchor="end" class="t">70</text>
<text x="292.5" y="461.7" text-anchor="end" class="t">80</text>
<text x="292.5" y="262.6" text-anchor="end" class="t">90</text>
<text x="292.5" y="63.4" text-anchor="end" class="t">100</text>
<text x="323.9" y="1312.5" text-anchor="middle" class="t">0</text>
<text x="563.1" y="1312.5" text-anchor="middle" class="t">50</text>
<text x="802.3" y="1312.5" text-anchor="middle" class="t">100</text>
<text x="1041.5" y="1312.5" text-anchor="middle" class="t">150</text>
<text x="1280.7" y="1312.5" text-anchor="middle" class="t">200</text>
<text x="1519.9" y="1312.5" text-anchor="middle" class="t">250</text>
<text x="923.3" y="1438.2" text-anchor="middle" class="l" style="letter-spacing:0.2px">time (ns)</text>
<text transform="translate(86 650) rotate(-90)" text-anchor="middle" class="l" style="letter-spacing:0.8px">sasa (nm<tspan dy="-35" font-size="49">2</tspan><tspan dy="35">)</tspan></text>
</g>
</svg>
</body>
</html>
